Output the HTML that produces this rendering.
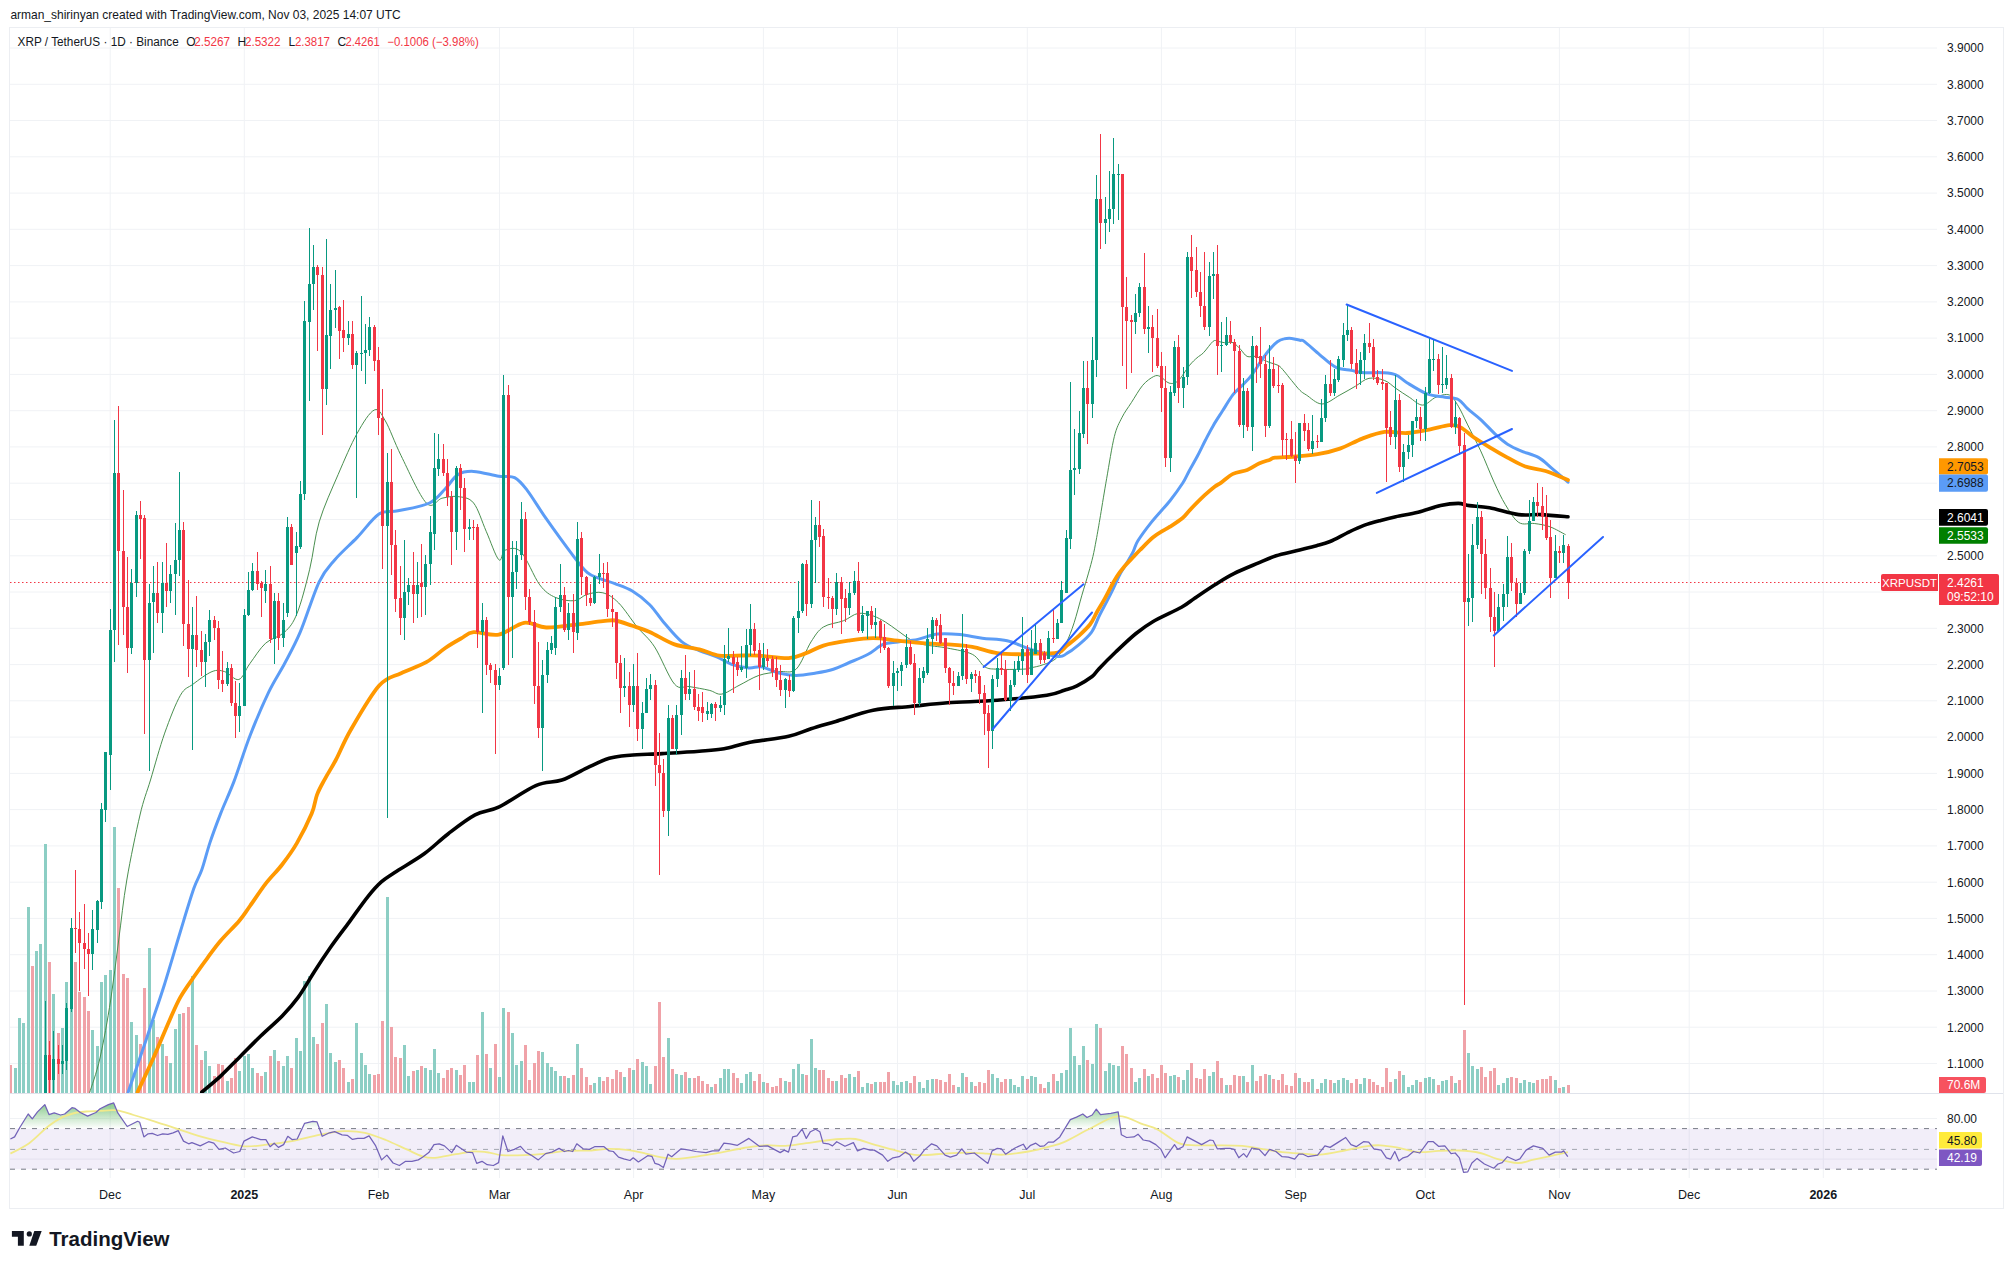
<!DOCTYPE html><html><head><meta charset="utf-8"><style>
html,body{margin:0;padding:0;background:#fff;width:2014px;height:1269px;overflow:hidden}
svg{display:block}
text{font-family:"Liberation Sans",sans-serif}
</style></head><body>
<svg width="2014" height="1269" viewBox="0 0 2014 1269">
<defs>
<clipPath id="mainclip"><rect x="10" y="28" width="1927" height="1065"/></clipPath>
<clipPath id="rsiclip"><rect x="10" y="1094" width="1927" height="84"/></clipPath>
<linearGradient id="gfill" gradientUnits="userSpaceOnUse" x1="0" y1="1098" x2="0" y2="1128.6"><stop offset="0" stop-color="#4caf50" stop-opacity="0.8"/><stop offset="1" stop-color="#4caf50" stop-opacity="0"/></linearGradient>
</defs>
<text x="10.4" y="18.9" font-size="12.6" fill="#131722" textLength="390.3" lengthAdjust="spacingAndGlyphs">arman_shirinyan created with TradingView.com, Nov 03, 2025 14:07 UTC</text>
<rect x="9.5" y="27.5" width="1994" height="1181" fill="none" stroke="#eceef2" stroke-width="1"/>
<line x1="10" y1="48.0" x2="1937" y2="48.0" stroke="#f0f2f5" stroke-width="1"/>
<line x1="10" y1="84.3" x2="1937" y2="84.3" stroke="#f0f2f5" stroke-width="1"/>
<line x1="10" y1="120.5" x2="1937" y2="120.5" stroke="#f0f2f5" stroke-width="1"/>
<line x1="10" y1="156.8" x2="1937" y2="156.8" stroke="#f0f2f5" stroke-width="1"/>
<line x1="10" y1="193.1" x2="1937" y2="193.1" stroke="#f0f2f5" stroke-width="1"/>
<line x1="10" y1="229.3" x2="1937" y2="229.3" stroke="#f0f2f5" stroke-width="1"/>
<line x1="10" y1="265.6" x2="1937" y2="265.6" stroke="#f0f2f5" stroke-width="1"/>
<line x1="10" y1="301.9" x2="1937" y2="301.9" stroke="#f0f2f5" stroke-width="1"/>
<line x1="10" y1="338.1" x2="1937" y2="338.1" stroke="#f0f2f5" stroke-width="1"/>
<line x1="10" y1="374.4" x2="1937" y2="374.4" stroke="#f0f2f5" stroke-width="1"/>
<line x1="10" y1="410.7" x2="1937" y2="410.7" stroke="#f0f2f5" stroke-width="1"/>
<line x1="10" y1="446.9" x2="1937" y2="446.9" stroke="#f0f2f5" stroke-width="1"/>
<line x1="10" y1="483.2" x2="1937" y2="483.2" stroke="#f0f2f5" stroke-width="1"/>
<line x1="10" y1="519.5" x2="1937" y2="519.5" stroke="#f0f2f5" stroke-width="1"/>
<line x1="10" y1="555.8" x2="1937" y2="555.8" stroke="#f0f2f5" stroke-width="1"/>
<line x1="10" y1="592.0" x2="1937" y2="592.0" stroke="#f0f2f5" stroke-width="1"/>
<line x1="10" y1="628.3" x2="1937" y2="628.3" stroke="#f0f2f5" stroke-width="1"/>
<line x1="10" y1="664.6" x2="1937" y2="664.6" stroke="#f0f2f5" stroke-width="1"/>
<line x1="10" y1="700.8" x2="1937" y2="700.8" stroke="#f0f2f5" stroke-width="1"/>
<line x1="10" y1="737.1" x2="1937" y2="737.1" stroke="#f0f2f5" stroke-width="1"/>
<line x1="10" y1="773.4" x2="1937" y2="773.4" stroke="#f0f2f5" stroke-width="1"/>
<line x1="10" y1="809.6" x2="1937" y2="809.6" stroke="#f0f2f5" stroke-width="1"/>
<line x1="10" y1="845.9" x2="1937" y2="845.9" stroke="#f0f2f5" stroke-width="1"/>
<line x1="10" y1="882.2" x2="1937" y2="882.2" stroke="#f0f2f5" stroke-width="1"/>
<line x1="10" y1="918.4" x2="1937" y2="918.4" stroke="#f0f2f5" stroke-width="1"/>
<line x1="10" y1="954.7" x2="1937" y2="954.7" stroke="#f0f2f5" stroke-width="1"/>
<line x1="10" y1="991.0" x2="1937" y2="991.0" stroke="#f0f2f5" stroke-width="1"/>
<line x1="10" y1="1027.2" x2="1937" y2="1027.2" stroke="#f0f2f5" stroke-width="1"/>
<line x1="10" y1="1063.5" x2="1937" y2="1063.5" stroke="#f0f2f5" stroke-width="1"/>
<line x1="10" y1="1118.5" x2="1937" y2="1118.5" stroke="#f0f2f5" stroke-width="1"/>
<line x1="10" y1="1159.1" x2="1937" y2="1159.1" stroke="#f0f2f5" stroke-width="1"/>
<line x1="110.2" y1="28" x2="110.2" y2="1178" stroke="#f0f2f5" stroke-width="1"/>
<line x1="244.3" y1="28" x2="244.3" y2="1178" stroke="#f0f2f5" stroke-width="1"/>
<line x1="378.4" y1="28" x2="378.4" y2="1178" stroke="#f0f2f5" stroke-width="1"/>
<line x1="499.5" y1="28" x2="499.5" y2="1178" stroke="#f0f2f5" stroke-width="1"/>
<line x1="633.6" y1="28" x2="633.6" y2="1178" stroke="#f0f2f5" stroke-width="1"/>
<line x1="763.4" y1="28" x2="763.4" y2="1178" stroke="#f0f2f5" stroke-width="1"/>
<line x1="897.5" y1="28" x2="897.5" y2="1178" stroke="#f0f2f5" stroke-width="1"/>
<line x1="1027.3" y1="28" x2="1027.3" y2="1178" stroke="#f0f2f5" stroke-width="1"/>
<line x1="1161.4" y1="28" x2="1161.4" y2="1178" stroke="#f0f2f5" stroke-width="1"/>
<line x1="1295.5" y1="28" x2="1295.5" y2="1178" stroke="#f0f2f5" stroke-width="1"/>
<line x1="1425.3" y1="28" x2="1425.3" y2="1178" stroke="#f0f2f5" stroke-width="1"/>
<line x1="1559.4" y1="28" x2="1559.4" y2="1178" stroke="#f0f2f5" stroke-width="1"/>
<line x1="1689.2" y1="28" x2="1689.2" y2="1178" stroke="#f0f2f5" stroke-width="1"/>
<line x1="1823.3" y1="28" x2="1823.3" y2="1178" stroke="#f0f2f5" stroke-width="1"/>
<g clip-path="url(#mainclip)">
<rect x="9" y="1065" width="3" height="28" fill="#f0a2a8"/>
<rect x="14" y="1068" width="3" height="25" fill="#8ccec4"/>
<rect x="18" y="1018" width="3" height="75" fill="#8ccec4"/>
<rect x="22" y="1023" width="3" height="70" fill="#8ccec4"/>
<rect x="27" y="907" width="3" height="186" fill="#8ccec4"/>
<rect x="31" y="966" width="3" height="127" fill="#f0a2a8"/>
<rect x="35" y="951" width="3" height="142" fill="#8ccec4"/>
<rect x="39" y="944" width="3" height="149" fill="#8ccec4"/>
<rect x="44" y="844" width="3" height="249" fill="#8ccec4"/>
<rect x="48" y="962" width="3" height="131" fill="#f0a2a8"/>
<rect x="52" y="994" width="3" height="99" fill="#8ccec4"/>
<rect x="57" y="1033" width="3" height="60" fill="#f0a2a8"/>
<rect x="61" y="1028" width="3" height="65" fill="#8ccec4"/>
<rect x="65" y="982" width="3" height="111" fill="#8ccec4"/>
<rect x="70" y="1008" width="3" height="85" fill="#8ccec4"/>
<rect x="74" y="962" width="3" height="131" fill="#f0a2a8"/>
<rect x="78" y="992" width="3" height="101" fill="#f0a2a8"/>
<rect x="83" y="997" width="3" height="96" fill="#f0a2a8"/>
<rect x="87" y="1011" width="3" height="82" fill="#f0a2a8"/>
<rect x="91" y="1030" width="3" height="63" fill="#8ccec4"/>
<rect x="96" y="1046" width="3" height="47" fill="#8ccec4"/>
<rect x="100" y="982" width="3" height="111" fill="#8ccec4"/>
<rect x="104" y="975" width="3" height="118" fill="#8ccec4"/>
<rect x="109" y="970" width="3" height="123" fill="#8ccec4"/>
<rect x="113" y="827" width="3" height="266" fill="#8ccec4"/>
<rect x="117" y="888" width="3" height="205" fill="#f0a2a8"/>
<rect x="122" y="974" width="3" height="119" fill="#f0a2a8"/>
<rect x="126" y="978" width="3" height="115" fill="#f0a2a8"/>
<rect x="130" y="1022" width="3" height="71" fill="#8ccec4"/>
<rect x="135" y="1035" width="3" height="58" fill="#8ccec4"/>
<rect x="139" y="1044" width="3" height="49" fill="#f0a2a8"/>
<rect x="143" y="988" width="3" height="105" fill="#f0a2a8"/>
<rect x="148" y="948" width="3" height="145" fill="#8ccec4"/>
<rect x="152" y="1020" width="3" height="73" fill="#8ccec4"/>
<rect x="156" y="1037" width="3" height="56" fill="#f0a2a8"/>
<rect x="161" y="1044" width="3" height="49" fill="#8ccec4"/>
<rect x="165" y="1056" width="3" height="37" fill="#f0a2a8"/>
<rect x="169" y="1063" width="3" height="30" fill="#8ccec4"/>
<rect x="174" y="1029" width="3" height="64" fill="#8ccec4"/>
<rect x="178" y="1014" width="3" height="79" fill="#8ccec4"/>
<rect x="182" y="1013" width="3" height="80" fill="#f0a2a8"/>
<rect x="187" y="1007" width="3" height="86" fill="#f0a2a8"/>
<rect x="191" y="976" width="3" height="117" fill="#8ccec4"/>
<rect x="195" y="1045" width="3" height="48" fill="#f0a2a8"/>
<rect x="200" y="1060" width="3" height="33" fill="#f0a2a8"/>
<rect x="204" y="1051" width="3" height="42" fill="#8ccec4"/>
<rect x="208" y="1066" width="3" height="27" fill="#8ccec4"/>
<rect x="213" y="1076" width="3" height="17" fill="#f0a2a8"/>
<rect x="217" y="1064" width="3" height="29" fill="#f0a2a8"/>
<rect x="221" y="1065" width="3" height="28" fill="#f0a2a8"/>
<rect x="226" y="1081" width="3" height="12" fill="#8ccec4"/>
<rect x="230" y="1078" width="3" height="15" fill="#f0a2a8"/>
<rect x="234" y="1058" width="3" height="35" fill="#f0a2a8"/>
<rect x="238" y="1071" width="3" height="22" fill="#8ccec4"/>
<rect x="243" y="1056" width="3" height="37" fill="#8ccec4"/>
<rect x="247" y="1054" width="3" height="39" fill="#8ccec4"/>
<rect x="251" y="1068" width="3" height="25" fill="#8ccec4"/>
<rect x="256" y="1073" width="3" height="20" fill="#f0a2a8"/>
<rect x="260" y="1076" width="3" height="17" fill="#f0a2a8"/>
<rect x="264" y="1072" width="3" height="21" fill="#8ccec4"/>
<rect x="269" y="1056" width="3" height="37" fill="#f0a2a8"/>
<rect x="273" y="1050" width="3" height="43" fill="#8ccec4"/>
<rect x="277" y="1061" width="3" height="32" fill="#f0a2a8"/>
<rect x="282" y="1066" width="3" height="27" fill="#8ccec4"/>
<rect x="286" y="1056" width="3" height="37" fill="#8ccec4"/>
<rect x="290" y="1068" width="3" height="25" fill="#f0a2a8"/>
<rect x="295" y="1038" width="3" height="55" fill="#8ccec4"/>
<rect x="299" y="1051" width="3" height="42" fill="#8ccec4"/>
<rect x="303" y="981" width="3" height="112" fill="#8ccec4"/>
<rect x="308" y="976" width="3" height="117" fill="#8ccec4"/>
<rect x="312" y="1037" width="3" height="56" fill="#8ccec4"/>
<rect x="316" y="1044" width="3" height="49" fill="#f0a2a8"/>
<rect x="321" y="1023" width="3" height="70" fill="#f0a2a8"/>
<rect x="325" y="1004" width="3" height="89" fill="#8ccec4"/>
<rect x="329" y="1053" width="3" height="40" fill="#8ccec4"/>
<rect x="334" y="1062" width="3" height="31" fill="#8ccec4"/>
<rect x="338" y="1060" width="3" height="33" fill="#f0a2a8"/>
<rect x="342" y="1068" width="3" height="25" fill="#f0a2a8"/>
<rect x="347" y="1082" width="3" height="11" fill="#8ccec4"/>
<rect x="351" y="1079" width="3" height="14" fill="#f0a2a8"/>
<rect x="355" y="1023" width="3" height="70" fill="#8ccec4"/>
<rect x="360" y="1053" width="3" height="40" fill="#8ccec4"/>
<rect x="364" y="1065" width="3" height="28" fill="#8ccec4"/>
<rect x="368" y="1074" width="3" height="19" fill="#8ccec4"/>
<rect x="373" y="1075" width="3" height="18" fill="#f0a2a8"/>
<rect x="377" y="1074" width="3" height="19" fill="#f0a2a8"/>
<rect x="381" y="1021" width="3" height="72" fill="#f0a2a8"/>
<rect x="386" y="897" width="3" height="196" fill="#8ccec4"/>
<rect x="390" y="1027" width="3" height="66" fill="#f0a2a8"/>
<rect x="394" y="1057" width="3" height="36" fill="#f0a2a8"/>
<rect x="399" y="1058" width="3" height="35" fill="#f0a2a8"/>
<rect x="403" y="1045" width="3" height="48" fill="#8ccec4"/>
<rect x="407" y="1076" width="3" height="17" fill="#8ccec4"/>
<rect x="412" y="1071" width="3" height="22" fill="#f0a2a8"/>
<rect x="416" y="1070" width="3" height="23" fill="#8ccec4"/>
<rect x="420" y="1066" width="3" height="27" fill="#f0a2a8"/>
<rect x="424" y="1068" width="3" height="25" fill="#8ccec4"/>
<rect x="429" y="1070" width="3" height="23" fill="#8ccec4"/>
<rect x="433" y="1049" width="3" height="44" fill="#8ccec4"/>
<rect x="437" y="1073" width="3" height="20" fill="#8ccec4"/>
<rect x="442" y="1078" width="3" height="15" fill="#f0a2a8"/>
<rect x="446" y="1070" width="3" height="23" fill="#f0a2a8"/>
<rect x="450" y="1068" width="3" height="25" fill="#f0a2a8"/>
<rect x="455" y="1070" width="3" height="23" fill="#8ccec4"/>
<rect x="459" y="1075" width="3" height="18" fill="#f0a2a8"/>
<rect x="463" y="1065" width="3" height="28" fill="#f0a2a8"/>
<rect x="468" y="1082" width="3" height="11" fill="#8ccec4"/>
<rect x="472" y="1082" width="3" height="11" fill="#8ccec4"/>
<rect x="476" y="1055" width="3" height="38" fill="#f0a2a8"/>
<rect x="481" y="1012" width="3" height="81" fill="#8ccec4"/>
<rect x="485" y="1054" width="3" height="39" fill="#f0a2a8"/>
<rect x="489" y="1068" width="3" height="25" fill="#8ccec4"/>
<rect x="494" y="1044" width="3" height="49" fill="#f0a2a8"/>
<rect x="498" y="1077" width="3" height="16" fill="#8ccec4"/>
<rect x="502" y="1008" width="3" height="85" fill="#8ccec4"/>
<rect x="507" y="1012" width="3" height="81" fill="#f0a2a8"/>
<rect x="511" y="1033" width="3" height="60" fill="#8ccec4"/>
<rect x="515" y="1065" width="3" height="28" fill="#8ccec4"/>
<rect x="520" y="1061" width="3" height="32" fill="#8ccec4"/>
<rect x="524" y="1045" width="3" height="48" fill="#f0a2a8"/>
<rect x="528" y="1080" width="3" height="13" fill="#f0a2a8"/>
<rect x="533" y="1063" width="3" height="30" fill="#f0a2a8"/>
<rect x="537" y="1051" width="3" height="42" fill="#f0a2a8"/>
<rect x="541" y="1052" width="3" height="41" fill="#8ccec4"/>
<rect x="546" y="1063" width="3" height="30" fill="#8ccec4"/>
<rect x="550" y="1067" width="3" height="26" fill="#8ccec4"/>
<rect x="554" y="1071" width="3" height="22" fill="#8ccec4"/>
<rect x="559" y="1076" width="3" height="17" fill="#8ccec4"/>
<rect x="563" y="1076" width="3" height="17" fill="#f0a2a8"/>
<rect x="567" y="1078" width="3" height="15" fill="#8ccec4"/>
<rect x="572" y="1075" width="3" height="18" fill="#f0a2a8"/>
<rect x="576" y="1044" width="3" height="49" fill="#8ccec4"/>
<rect x="580" y="1068" width="3" height="25" fill="#f0a2a8"/>
<rect x="585" y="1077" width="3" height="16" fill="#f0a2a8"/>
<rect x="589" y="1085" width="3" height="8" fill="#f0a2a8"/>
<rect x="593" y="1083" width="3" height="10" fill="#8ccec4"/>
<rect x="598" y="1077" width="3" height="16" fill="#8ccec4"/>
<rect x="602" y="1081" width="3" height="12" fill="#f0a2a8"/>
<rect x="606" y="1077" width="3" height="16" fill="#f0a2a8"/>
<rect x="611" y="1079" width="3" height="14" fill="#f0a2a8"/>
<rect x="615" y="1070" width="3" height="23" fill="#f0a2a8"/>
<rect x="619" y="1072" width="3" height="21" fill="#f0a2a8"/>
<rect x="623" y="1077" width="3" height="16" fill="#8ccec4"/>
<rect x="628" y="1068" width="3" height="25" fill="#f0a2a8"/>
<rect x="632" y="1070" width="3" height="23" fill="#8ccec4"/>
<rect x="636" y="1059" width="3" height="34" fill="#f0a2a8"/>
<rect x="641" y="1062" width="3" height="31" fill="#8ccec4"/>
<rect x="645" y="1066" width="3" height="27" fill="#8ccec4"/>
<rect x="649" y="1084" width="3" height="9" fill="#8ccec4"/>
<rect x="654" y="1066" width="3" height="27" fill="#f0a2a8"/>
<rect x="658" y="1002" width="3" height="91" fill="#f0a2a8"/>
<rect x="662" y="1057" width="3" height="36" fill="#f0a2a8"/>
<rect x="667" y="1038" width="3" height="55" fill="#8ccec4"/>
<rect x="671" y="1069" width="3" height="24" fill="#f0a2a8"/>
<rect x="675" y="1074" width="3" height="19" fill="#8ccec4"/>
<rect x="680" y="1075" width="3" height="18" fill="#8ccec4"/>
<rect x="684" y="1072" width="3" height="21" fill="#f0a2a8"/>
<rect x="688" y="1078" width="3" height="15" fill="#8ccec4"/>
<rect x="693" y="1078" width="3" height="15" fill="#f0a2a8"/>
<rect x="697" y="1076" width="3" height="17" fill="#f0a2a8"/>
<rect x="701" y="1081" width="3" height="12" fill="#f0a2a8"/>
<rect x="706" y="1084" width="3" height="9" fill="#f0a2a8"/>
<rect x="710" y="1087" width="3" height="6" fill="#8ccec4"/>
<rect x="714" y="1084" width="3" height="9" fill="#f0a2a8"/>
<rect x="719" y="1078" width="3" height="15" fill="#8ccec4"/>
<rect x="723" y="1069" width="3" height="24" fill="#8ccec4"/>
<rect x="727" y="1069" width="3" height="24" fill="#8ccec4"/>
<rect x="732" y="1073" width="3" height="20" fill="#f0a2a8"/>
<rect x="736" y="1078" width="3" height="15" fill="#f0a2a8"/>
<rect x="740" y="1083" width="3" height="10" fill="#8ccec4"/>
<rect x="745" y="1074" width="3" height="19" fill="#8ccec4"/>
<rect x="749" y="1072" width="3" height="21" fill="#8ccec4"/>
<rect x="753" y="1081" width="3" height="12" fill="#f0a2a8"/>
<rect x="758" y="1074" width="3" height="19" fill="#f0a2a8"/>
<rect x="762" y="1082" width="3" height="11" fill="#8ccec4"/>
<rect x="766" y="1083" width="3" height="10" fill="#f0a2a8"/>
<rect x="771" y="1087" width="3" height="6" fill="#f0a2a8"/>
<rect x="775" y="1086" width="3" height="7" fill="#f0a2a8"/>
<rect x="779" y="1078" width="3" height="15" fill="#f0a2a8"/>
<rect x="784" y="1081" width="3" height="12" fill="#8ccec4"/>
<rect x="788" y="1082" width="3" height="11" fill="#f0a2a8"/>
<rect x="792" y="1069" width="3" height="24" fill="#8ccec4"/>
<rect x="797" y="1064" width="3" height="29" fill="#8ccec4"/>
<rect x="801" y="1074" width="3" height="19" fill="#8ccec4"/>
<rect x="805" y="1075" width="3" height="18" fill="#f0a2a8"/>
<rect x="810" y="1039" width="3" height="54" fill="#8ccec4"/>
<rect x="814" y="1068" width="3" height="25" fill="#8ccec4"/>
<rect x="818" y="1070" width="3" height="23" fill="#f0a2a8"/>
<rect x="822" y="1070" width="3" height="23" fill="#f0a2a8"/>
<rect x="827" y="1078" width="3" height="15" fill="#f0a2a8"/>
<rect x="831" y="1081" width="3" height="12" fill="#f0a2a8"/>
<rect x="835" y="1081" width="3" height="12" fill="#8ccec4"/>
<rect x="840" y="1075" width="3" height="18" fill="#f0a2a8"/>
<rect x="844" y="1078" width="3" height="15" fill="#f0a2a8"/>
<rect x="848" y="1074" width="3" height="19" fill="#8ccec4"/>
<rect x="853" y="1077" width="3" height="16" fill="#8ccec4"/>
<rect x="857" y="1071" width="3" height="22" fill="#f0a2a8"/>
<rect x="861" y="1087" width="3" height="6" fill="#8ccec4"/>
<rect x="866" y="1083" width="3" height="10" fill="#8ccec4"/>
<rect x="870" y="1084" width="3" height="9" fill="#f0a2a8"/>
<rect x="874" y="1082" width="3" height="11" fill="#8ccec4"/>
<rect x="879" y="1082" width="3" height="11" fill="#f0a2a8"/>
<rect x="883" y="1082" width="3" height="11" fill="#f0a2a8"/>
<rect x="887" y="1072" width="3" height="21" fill="#f0a2a8"/>
<rect x="892" y="1081" width="3" height="12" fill="#8ccec4"/>
<rect x="896" y="1085" width="3" height="8" fill="#8ccec4"/>
<rect x="900" y="1082" width="3" height="11" fill="#8ccec4"/>
<rect x="905" y="1081" width="3" height="12" fill="#8ccec4"/>
<rect x="909" y="1083" width="3" height="10" fill="#f0a2a8"/>
<rect x="913" y="1076" width="3" height="17" fill="#f0a2a8"/>
<rect x="918" y="1082" width="3" height="11" fill="#8ccec4"/>
<rect x="922" y="1088" width="3" height="5" fill="#8ccec4"/>
<rect x="926" y="1080" width="3" height="13" fill="#8ccec4"/>
<rect x="931" y="1079" width="3" height="14" fill="#8ccec4"/>
<rect x="935" y="1079" width="3" height="14" fill="#f0a2a8"/>
<rect x="939" y="1080" width="3" height="13" fill="#f0a2a8"/>
<rect x="944" y="1082" width="3" height="11" fill="#f0a2a8"/>
<rect x="948" y="1074" width="3" height="19" fill="#f0a2a8"/>
<rect x="952" y="1085" width="3" height="8" fill="#f0a2a8"/>
<rect x="957" y="1087" width="3" height="6" fill="#8ccec4"/>
<rect x="961" y="1073" width="3" height="20" fill="#8ccec4"/>
<rect x="965" y="1077" width="3" height="16" fill="#f0a2a8"/>
<rect x="970" y="1082" width="3" height="11" fill="#8ccec4"/>
<rect x="974" y="1086" width="3" height="7" fill="#f0a2a8"/>
<rect x="978" y="1082" width="3" height="11" fill="#f0a2a8"/>
<rect x="983" y="1083" width="3" height="10" fill="#f0a2a8"/>
<rect x="987" y="1070" width="3" height="23" fill="#f0a2a8"/>
<rect x="991" y="1074" width="3" height="19" fill="#8ccec4"/>
<rect x="996" y="1078" width="3" height="15" fill="#8ccec4"/>
<rect x="1000" y="1082" width="3" height="11" fill="#f0a2a8"/>
<rect x="1004" y="1079" width="3" height="14" fill="#f0a2a8"/>
<rect x="1009" y="1079" width="3" height="14" fill="#8ccec4"/>
<rect x="1013" y="1085" width="3" height="8" fill="#8ccec4"/>
<rect x="1017" y="1087" width="3" height="6" fill="#8ccec4"/>
<rect x="1021" y="1076" width="3" height="17" fill="#8ccec4"/>
<rect x="1026" y="1079" width="3" height="14" fill="#f0a2a8"/>
<rect x="1030" y="1076" width="3" height="17" fill="#8ccec4"/>
<rect x="1034" y="1077" width="3" height="16" fill="#8ccec4"/>
<rect x="1039" y="1084" width="3" height="9" fill="#f0a2a8"/>
<rect x="1043" y="1088" width="3" height="5" fill="#f0a2a8"/>
<rect x="1047" y="1082" width="3" height="11" fill="#8ccec4"/>
<rect x="1052" y="1074" width="3" height="19" fill="#f0a2a8"/>
<rect x="1056" y="1081" width="3" height="12" fill="#8ccec4"/>
<rect x="1060" y="1073" width="3" height="20" fill="#8ccec4"/>
<rect x="1065" y="1070" width="3" height="23" fill="#8ccec4"/>
<rect x="1069" y="1028" width="3" height="65" fill="#8ccec4"/>
<rect x="1073" y="1056" width="3" height="37" fill="#8ccec4"/>
<rect x="1078" y="1065" width="3" height="28" fill="#8ccec4"/>
<rect x="1082" y="1046" width="3" height="47" fill="#8ccec4"/>
<rect x="1086" y="1060" width="3" height="33" fill="#f0a2a8"/>
<rect x="1091" y="1064" width="3" height="29" fill="#8ccec4"/>
<rect x="1095" y="1024" width="3" height="69" fill="#8ccec4"/>
<rect x="1099" y="1028" width="3" height="65" fill="#f0a2a8"/>
<rect x="1104" y="1071" width="3" height="22" fill="#8ccec4"/>
<rect x="1108" y="1063" width="3" height="30" fill="#8ccec4"/>
<rect x="1112" y="1065" width="3" height="28" fill="#8ccec4"/>
<rect x="1117" y="1066" width="3" height="27" fill="#8ccec4"/>
<rect x="1121" y="1046" width="3" height="47" fill="#f0a2a8"/>
<rect x="1125" y="1054" width="3" height="39" fill="#f0a2a8"/>
<rect x="1130" y="1068" width="3" height="25" fill="#f0a2a8"/>
<rect x="1134" y="1082" width="3" height="11" fill="#8ccec4"/>
<rect x="1138" y="1078" width="3" height="15" fill="#8ccec4"/>
<rect x="1143" y="1069" width="3" height="24" fill="#f0a2a8"/>
<rect x="1147" y="1076" width="3" height="17" fill="#8ccec4"/>
<rect x="1151" y="1074" width="3" height="19" fill="#f0a2a8"/>
<rect x="1156" y="1078" width="3" height="15" fill="#f0a2a8"/>
<rect x="1160" y="1065" width="3" height="28" fill="#f0a2a8"/>
<rect x="1164" y="1073" width="3" height="20" fill="#f0a2a8"/>
<rect x="1169" y="1076" width="3" height="17" fill="#8ccec4"/>
<rect x="1173" y="1075" width="3" height="18" fill="#8ccec4"/>
<rect x="1177" y="1077" width="3" height="16" fill="#f0a2a8"/>
<rect x="1182" y="1080" width="3" height="13" fill="#8ccec4"/>
<rect x="1186" y="1070" width="3" height="23" fill="#8ccec4"/>
<rect x="1190" y="1063" width="3" height="30" fill="#f0a2a8"/>
<rect x="1195" y="1078" width="3" height="15" fill="#f0a2a8"/>
<rect x="1199" y="1079" width="3" height="14" fill="#f0a2a8"/>
<rect x="1203" y="1069" width="3" height="24" fill="#f0a2a8"/>
<rect x="1208" y="1076" width="3" height="17" fill="#8ccec4"/>
<rect x="1212" y="1072" width="3" height="21" fill="#8ccec4"/>
<rect x="1216" y="1061" width="3" height="32" fill="#f0a2a8"/>
<rect x="1220" y="1078" width="3" height="15" fill="#f0a2a8"/>
<rect x="1225" y="1085" width="3" height="8" fill="#8ccec4"/>
<rect x="1229" y="1085" width="3" height="8" fill="#f0a2a8"/>
<rect x="1233" y="1075" width="3" height="18" fill="#f0a2a8"/>
<rect x="1238" y="1076" width="3" height="17" fill="#f0a2a8"/>
<rect x="1242" y="1076" width="3" height="17" fill="#8ccec4"/>
<rect x="1246" y="1082" width="3" height="11" fill="#f0a2a8"/>
<rect x="1251" y="1065" width="3" height="28" fill="#8ccec4"/>
<rect x="1255" y="1081" width="3" height="12" fill="#f0a2a8"/>
<rect x="1259" y="1076" width="3" height="17" fill="#f0a2a8"/>
<rect x="1264" y="1074" width="3" height="19" fill="#f0a2a8"/>
<rect x="1268" y="1075" width="3" height="18" fill="#8ccec4"/>
<rect x="1272" y="1079" width="3" height="14" fill="#f0a2a8"/>
<rect x="1277" y="1080" width="3" height="13" fill="#f0a2a8"/>
<rect x="1281" y="1074" width="3" height="19" fill="#f0a2a8"/>
<rect x="1285" y="1085" width="3" height="8" fill="#f0a2a8"/>
<rect x="1290" y="1086" width="3" height="7" fill="#f0a2a8"/>
<rect x="1294" y="1073" width="3" height="20" fill="#f0a2a8"/>
<rect x="1298" y="1078" width="3" height="15" fill="#8ccec4"/>
<rect x="1303" y="1082" width="3" height="11" fill="#f0a2a8"/>
<rect x="1307" y="1082" width="3" height="11" fill="#f0a2a8"/>
<rect x="1311" y="1079" width="3" height="14" fill="#8ccec4"/>
<rect x="1316" y="1089" width="3" height="4" fill="#f0a2a8"/>
<rect x="1320" y="1083" width="3" height="10" fill="#8ccec4"/>
<rect x="1324" y="1079" width="3" height="14" fill="#8ccec4"/>
<rect x="1329" y="1080" width="3" height="13" fill="#f0a2a8"/>
<rect x="1333" y="1083" width="3" height="10" fill="#8ccec4"/>
<rect x="1337" y="1080" width="3" height="13" fill="#8ccec4"/>
<rect x="1342" y="1078" width="3" height="15" fill="#8ccec4"/>
<rect x="1346" y="1080" width="3" height="13" fill="#8ccec4"/>
<rect x="1350" y="1083" width="3" height="10" fill="#f0a2a8"/>
<rect x="1355" y="1079" width="3" height="14" fill="#f0a2a8"/>
<rect x="1359" y="1084" width="3" height="9" fill="#8ccec4"/>
<rect x="1363" y="1078" width="3" height="15" fill="#8ccec4"/>
<rect x="1368" y="1079" width="3" height="14" fill="#f0a2a8"/>
<rect x="1372" y="1082" width="3" height="11" fill="#f0a2a8"/>
<rect x="1376" y="1085" width="3" height="8" fill="#f0a2a8"/>
<rect x="1381" y="1087" width="3" height="6" fill="#f0a2a8"/>
<rect x="1385" y="1068" width="3" height="25" fill="#f0a2a8"/>
<rect x="1389" y="1082" width="3" height="11" fill="#f0a2a8"/>
<rect x="1394" y="1079" width="3" height="14" fill="#8ccec4"/>
<rect x="1398" y="1071" width="3" height="22" fill="#f0a2a8"/>
<rect x="1402" y="1075" width="3" height="18" fill="#8ccec4"/>
<rect x="1407" y="1087" width="3" height="6" fill="#8ccec4"/>
<rect x="1411" y="1085" width="3" height="8" fill="#8ccec4"/>
<rect x="1415" y="1080" width="3" height="13" fill="#8ccec4"/>
<rect x="1419" y="1082" width="3" height="11" fill="#f0a2a8"/>
<rect x="1424" y="1078" width="3" height="15" fill="#8ccec4"/>
<rect x="1428" y="1077" width="3" height="16" fill="#8ccec4"/>
<rect x="1432" y="1079" width="3" height="14" fill="#8ccec4"/>
<rect x="1437" y="1085" width="3" height="8" fill="#f0a2a8"/>
<rect x="1441" y="1081" width="3" height="12" fill="#8ccec4"/>
<rect x="1445" y="1080" width="3" height="13" fill="#8ccec4"/>
<rect x="1450" y="1076" width="3" height="17" fill="#f0a2a8"/>
<rect x="1454" y="1083" width="3" height="10" fill="#8ccec4"/>
<rect x="1458" y="1080" width="3" height="13" fill="#f0a2a8"/>
<rect x="1463" y="1030" width="3" height="63" fill="#f0a2a8"/>
<rect x="1467" y="1053" width="3" height="40" fill="#8ccec4"/>
<rect x="1471" y="1066" width="3" height="27" fill="#8ccec4"/>
<rect x="1476" y="1069" width="3" height="24" fill="#8ccec4"/>
<rect x="1480" y="1067" width="3" height="26" fill="#f0a2a8"/>
<rect x="1484" y="1077" width="3" height="16" fill="#f0a2a8"/>
<rect x="1489" y="1071" width="3" height="22" fill="#f0a2a8"/>
<rect x="1493" y="1068" width="3" height="25" fill="#f0a2a8"/>
<rect x="1497" y="1085" width="3" height="8" fill="#8ccec4"/>
<rect x="1502" y="1083" width="3" height="10" fill="#8ccec4"/>
<rect x="1506" y="1078" width="3" height="15" fill="#8ccec4"/>
<rect x="1510" y="1077" width="3" height="16" fill="#f0a2a8"/>
<rect x="1515" y="1078" width="3" height="15" fill="#f0a2a8"/>
<rect x="1519" y="1083" width="3" height="10" fill="#8ccec4"/>
<rect x="1523" y="1080" width="3" height="13" fill="#8ccec4"/>
<rect x="1528" y="1082" width="3" height="11" fill="#8ccec4"/>
<rect x="1532" y="1083" width="3" height="10" fill="#8ccec4"/>
<rect x="1536" y="1080" width="3" height="13" fill="#f0a2a8"/>
<rect x="1541" y="1079" width="3" height="14" fill="#f0a2a8"/>
<rect x="1545" y="1079" width="3" height="14" fill="#f0a2a8"/>
<rect x="1549" y="1076" width="3" height="17" fill="#f0a2a8"/>
<rect x="1554" y="1080" width="3" height="13" fill="#8ccec4"/>
<rect x="1558" y="1088" width="3" height="5" fill="#f0a2a8"/>
<rect x="1562" y="1087" width="3" height="6" fill="#8ccec4"/>
<rect x="1567" y="1085" width="3" height="8" fill="#f0a2a8"/>
</g>
<rect x="10" y="1128.6" width="1927" height="40.6" fill="rgba(126,87,194,0.1)"/>
<line x1="10" y1="1128.6" x2="1937" y2="1128.6" stroke="#787b86" stroke-width="1" stroke-dasharray="5,6"/>
<line x1="10" y1="1149.4" x2="1937" y2="1149.4" stroke="#a3a6af" stroke-width="1" stroke-dasharray="5,6"/>
<line x1="10" y1="1169.2" x2="1937" y2="1169.2" stroke="#787b86" stroke-width="1" stroke-dasharray="5,6"/>
<g clip-path="url(#rsiclip)">
<clipPath id="above70"><rect x="10" y="1094" width="1927" height="34.6"/></clipPath>
<polygon points="10.4,1139.0 14.6,1136.9 19.8,1127.5 28.2,1114.0 32.3,1118.8 37.5,1111.9 44.8,1104.6 49.0,1114.6 54.2,1112.9 60.5,1115.0 64.7,1114.0 72.0,1107.7 75.1,1108.4 80.3,1112.5 87.6,1116.1 95.9,1112.5 100.1,1108.8 108.4,1104.6 113.7,1102.9 117.8,1112.9 127.2,1126.5 137.6,1121.3 139.7,1122.3 143.9,1136.9 148.1,1133.8 152.2,1133.4 157.5,1135.5 162.7,1133.8 167.9,1134.4 173.1,1132.8 178.3,1130.7 183.5,1141.1 188.7,1143.8 191.9,1142.6 200.2,1145.9 208.6,1141.7 213.8,1143.2 219.0,1149.4 225.2,1148.0 233.6,1153.0 239.8,1151.5 244.0,1141.1 252.3,1136.9 260.7,1139.6 265.9,1139.6 270.1,1146.7 274.2,1143.2 278.4,1147.4 283.6,1144.6 287.8,1136.3 292.0,1139.6 297.2,1139.0 304.5,1123.4 312.8,1121.3 317.0,1121.9 322.2,1136.3 329.5,1132.8 334.7,1131.7 342.0,1134.8 347.2,1135.3 352.5,1139.4 357.7,1138.4 363.9,1138.4 369.1,1135.9 375.4,1145.3 381.6,1159.9 386.9,1155.1 393.1,1163.0 399.4,1165.5 405.6,1161.3 411.9,1161.3 418.3,1159.9 422.5,1157.2 428.8,1152.6 434.0,1144.6 439.2,1143.8 444.4,1145.9 451.7,1152.6 456.3,1145.3 461.1,1148.4 466.3,1152.1 472.6,1152.6 476.7,1163.4 482.0,1161.3 487.2,1164.7 493.4,1165.5 498.6,1162.6 502.8,1135.9 508.0,1151.5 514.3,1149.4 520.5,1146.3 525.7,1152.1 531.0,1155.1 538.3,1159.9 545.6,1153.6 551.8,1152.1 559.1,1148.4 564.3,1151.5 568.5,1150.5 572.7,1151.5 576.8,1143.8 583.1,1148.8 589.4,1149.4 594.6,1146.7 604.0,1146.7 609.2,1150.9 613.3,1151.5 618.5,1157.2 623.8,1158.8 630.0,1160.5 633.2,1157.8 638.4,1161.9 647.7,1155.7 651.9,1156.3 655.0,1163.4 659.2,1164.7 663.4,1167.6 668.0,1154.2 671.7,1156.7 681.1,1148.8 689.5,1150.1 695.7,1151.5 706.1,1152.6 712.4,1150.9 718.7,1150.9 723.9,1143.2 730.1,1143.8 737.4,1145.3 748.9,1138.4 759.3,1146.3 767.7,1145.9 780.2,1152.6 784.3,1150.1 788.5,1152.1 792.7,1136.9 796.9,1135.9 802.1,1129.2 806.3,1138.4 810.4,1131.7 815.6,1129.2 819.8,1131.7 823.1,1143.2 828.3,1143.8 832.5,1145.9 836.7,1141.7 845.0,1146.3 853.4,1142.6 857.5,1150.9 863.8,1148.4 870.1,1150.1 874.2,1150.1 882.6,1155.1 887.8,1161.3 893.0,1157.8 899.2,1156.7 905.5,1152.1 909.7,1154.7 913.8,1161.3 920.1,1155.7 924.3,1150.1 931.6,1143.8 936.8,1145.9 945.1,1155.1 950.3,1157.2 956.6,1155.1 961.8,1148.8 966.0,1154.2 974.3,1153.0 987.9,1163.4 992.1,1150.9 997.3,1148.4 1001.4,1148.8 1005.6,1154.2 1015.0,1148.0 1023.3,1144.2 1026.5,1149.4 1030.6,1145.3 1035.8,1143.2 1040.0,1146.3 1044.2,1145.9 1048.4,1142.1 1053.6,1142.1 1059.8,1136.9 1070.3,1119.6 1076.5,1117.1 1082.8,1114.0 1087.0,1117.5 1092.2,1115.0 1096.3,1109.2 1100.5,1114.6 1110.9,1113.4 1118.2,1111.9 1121.4,1134.8 1126.6,1137.5 1133.9,1136.9 1138.0,1134.2 1143.2,1140.0 1149.5,1141.1 1155.8,1144.6 1161.0,1149.4 1165.1,1157.8 1174.5,1144.6 1177.7,1149.4 1182.9,1146.7 1187.1,1136.9 1201.6,1144.6 1210.0,1140.0 1213.1,1140.5 1217.3,1148.8 1225.6,1148.4 1230.0,1148.4 1234.2,1149.4 1238.8,1157.8 1243.6,1153.6 1246.7,1157.2 1251.9,1148.0 1259.2,1149.4 1265.0,1155.7 1269.6,1149.4 1275.9,1151.5 1282.1,1156.7 1288.4,1157.2 1294.7,1159.2 1298.8,1154.2 1303.0,1154.2 1308.2,1156.7 1317.6,1155.1 1324.9,1145.9 1330.1,1147.4 1338.4,1142.1 1345.7,1137.5 1351.0,1144.6 1356.2,1146.7 1363.5,1141.7 1368.7,1142.1 1373.9,1148.8 1381.2,1150.1 1386.4,1157.8 1390.6,1159.2 1394.8,1151.5 1398.9,1160.9 1403.1,1157.8 1407.3,1156.7 1413.5,1151.5 1419.8,1153.0 1428.1,1141.7 1433.3,1141.7 1438.5,1146.3 1444.8,1145.9 1451.1,1153.6 1455.2,1153.0 1459.4,1157.8 1463.6,1172.4 1467.8,1171.8 1471.9,1163.0 1477.1,1158.4 1484.4,1164.0 1493.8,1168.2 1498.0,1164.0 1502.2,1162.6 1507.4,1156.7 1515.7,1160.5 1519.9,1158.8 1526.1,1150.1 1533.4,1145.9 1542.8,1148.4 1549.1,1155.1 1555.3,1152.1 1561.6,1152.1 1563.7,1150.9 1567.8,1156.7 1567.8,1128.6 10.4,1128.6" fill="url(#gfill)" clip-path="url(#above70)"/>
<path d="M10.4,1153.6 C13.5,1151.9 22.9,1147.7 29.2,1143.2 C35.5,1138.7 42.4,1130.8 48.0,1126.5 C53.6,1122.2 57.7,1119.4 62.6,1117.1 C67.5,1114.8 72.7,1113.5 77.2,1112.5 C81.7,1111.5 85.9,1111.6 89.7,1111.3 C93.5,1111.0 95.6,1111.1 100.1,1110.9 C104.6,1110.8 111.2,1109.7 116.8,1110.4 C122.4,1111.1 127.2,1113.2 133.5,1115.0 C139.8,1116.8 146.7,1118.9 154.3,1121.3 C162.0,1123.7 171.8,1127.1 179.4,1129.6 C187.1,1132.1 193.6,1134.4 200.2,1136.3 C206.8,1138.2 211.7,1139.4 219.0,1141.1 C226.3,1142.8 236.0,1145.7 244.0,1146.3 C252.0,1146.9 258.9,1145.5 266.9,1144.6 C274.9,1143.7 283.3,1142.7 292.0,1141.1 C300.7,1139.5 310.4,1136.5 319.1,1134.8 C327.8,1133.1 336.5,1131.4 344.1,1131.1 C351.8,1130.8 358.1,1131.3 365.0,1132.8 C371.9,1134.3 378.9,1137.2 385.8,1140.0 C392.8,1142.8 400.6,1146.7 406.7,1149.4 C412.8,1152.1 417.8,1154.9 422.5,1156.3 C427.2,1157.7 429.4,1158.1 435.0,1157.8 C440.6,1157.5 449.6,1155.2 455.9,1154.2 C462.2,1153.2 467.1,1151.8 472.6,1151.5 C478.2,1151.2 484.3,1152.0 489.2,1152.6 C494.1,1153.2 495.9,1154.7 501.8,1155.1 C507.7,1155.5 517.4,1155.3 524.7,1155.1 C532.0,1154.8 538.7,1154.3 545.6,1153.6 C552.5,1152.9 558.8,1151.4 566.4,1150.9 C574.0,1150.4 584.4,1150.8 591.4,1150.5 C598.4,1150.2 601.8,1148.9 608.1,1148.8 C614.4,1148.7 622.7,1149.3 629.0,1150.1 C635.3,1150.9 640.5,1152.4 645.7,1153.6 C650.9,1154.8 655.1,1156.3 660.3,1157.2 C665.5,1158.1 670.0,1159.0 677.0,1158.8 C684.0,1158.5 694.4,1156.8 702.0,1155.7 C709.6,1154.6 715.8,1153.4 722.8,1152.1 C729.8,1150.8 736.8,1149.1 743.7,1148.0 C750.7,1146.9 757.5,1145.6 764.5,1145.3 C771.5,1145.0 778.4,1146.2 785.4,1145.9 C792.4,1145.6 798.9,1144.2 806.3,1143.2 C813.7,1142.2 824.2,1140.7 830.0,1140.0 C835.8,1139.3 836.6,1139.2 840.9,1139.0 C845.1,1138.8 850.0,1138.1 855.5,1139.0 C861.0,1139.9 867.2,1142.6 874.2,1144.6 C881.2,1146.6 889.9,1149.2 897.2,1150.9 C904.5,1152.7 910.0,1154.6 918.0,1155.1 C926.0,1155.5 937.1,1154.0 945.1,1153.6 C953.1,1153.2 959.0,1152.6 966.0,1152.6 C973.0,1152.6 980.5,1153.2 986.8,1153.6 C993.0,1153.9 996.5,1155.0 1003.5,1154.7 C1010.5,1154.4 1020.9,1152.8 1028.5,1151.5 C1036.2,1150.2 1043.5,1148.3 1049.4,1146.7 C1055.3,1145.1 1057.0,1145.2 1064.0,1142.1 C1071.0,1139.0 1082.1,1132.3 1091.1,1128.0 C1100.1,1123.7 1109.5,1116.7 1118.2,1116.1 C1126.9,1115.5 1136.6,1122.2 1143.2,1124.4 C1149.8,1126.7 1151.9,1126.5 1157.8,1129.6 C1163.7,1132.7 1172.4,1140.6 1178.7,1143.2 C1185.0,1145.8 1189.2,1145.0 1195.4,1145.3 C1201.7,1145.6 1208.4,1145.2 1216.2,1145.3 C1224.0,1145.4 1235.0,1145.3 1242.5,1145.9 C1250.0,1146.5 1254.7,1147.8 1261.3,1148.8 C1267.9,1149.8 1275.1,1151.3 1282.1,1152.1 C1289.0,1152.9 1296.7,1153.2 1303.0,1153.6 C1309.3,1154.0 1312.8,1155.2 1319.7,1154.7 C1326.7,1154.2 1337.1,1151.9 1344.7,1150.5 C1352.3,1149.1 1359.7,1147.2 1365.6,1146.3 C1371.5,1145.4 1375.0,1145.1 1380.2,1145.3 C1385.4,1145.5 1390.5,1146.3 1396.8,1147.4 C1403.0,1148.5 1410.8,1151.5 1417.7,1152.1 C1424.7,1152.7 1431.5,1151.2 1438.5,1150.9 C1445.5,1150.6 1452.4,1150.2 1459.4,1150.5 C1466.4,1150.8 1474.0,1151.6 1480.3,1153.0 C1486.5,1154.4 1490.7,1157.1 1496.9,1158.8 C1503.2,1160.5 1511.9,1162.8 1517.8,1163.0 C1523.7,1163.2 1527.2,1161.0 1532.4,1159.9 C1537.6,1158.8 1543.2,1157.6 1549.1,1156.3 C1555.0,1155.0 1564.7,1152.8 1567.8,1152.1" fill="none" stroke="#f1e98a" stroke-width="1.8" stroke-linejoin="round"/>
<polyline points="10.4,1139.0 14.6,1136.9 19.8,1127.5 28.2,1114.0 32.3,1118.8 37.5,1111.9 44.8,1104.6 49.0,1114.6 54.2,1112.9 60.5,1115.0 64.7,1114.0 72.0,1107.7 75.1,1108.4 80.3,1112.5 87.6,1116.1 95.9,1112.5 100.1,1108.8 108.4,1104.6 113.7,1102.9 117.8,1112.9 127.2,1126.5 137.6,1121.3 139.7,1122.3 143.9,1136.9 148.1,1133.8 152.2,1133.4 157.5,1135.5 162.7,1133.8 167.9,1134.4 173.1,1132.8 178.3,1130.7 183.5,1141.1 188.7,1143.8 191.9,1142.6 200.2,1145.9 208.6,1141.7 213.8,1143.2 219.0,1149.4 225.2,1148.0 233.6,1153.0 239.8,1151.5 244.0,1141.1 252.3,1136.9 260.7,1139.6 265.9,1139.6 270.1,1146.7 274.2,1143.2 278.4,1147.4 283.6,1144.6 287.8,1136.3 292.0,1139.6 297.2,1139.0 304.5,1123.4 312.8,1121.3 317.0,1121.9 322.2,1136.3 329.5,1132.8 334.7,1131.7 342.0,1134.8 347.2,1135.3 352.5,1139.4 357.7,1138.4 363.9,1138.4 369.1,1135.9 375.4,1145.3 381.6,1159.9 386.9,1155.1 393.1,1163.0 399.4,1165.5 405.6,1161.3 411.9,1161.3 418.3,1159.9 422.5,1157.2 428.8,1152.6 434.0,1144.6 439.2,1143.8 444.4,1145.9 451.7,1152.6 456.3,1145.3 461.1,1148.4 466.3,1152.1 472.6,1152.6 476.7,1163.4 482.0,1161.3 487.2,1164.7 493.4,1165.5 498.6,1162.6 502.8,1135.9 508.0,1151.5 514.3,1149.4 520.5,1146.3 525.7,1152.1 531.0,1155.1 538.3,1159.9 545.6,1153.6 551.8,1152.1 559.1,1148.4 564.3,1151.5 568.5,1150.5 572.7,1151.5 576.8,1143.8 583.1,1148.8 589.4,1149.4 594.6,1146.7 604.0,1146.7 609.2,1150.9 613.3,1151.5 618.5,1157.2 623.8,1158.8 630.0,1160.5 633.2,1157.8 638.4,1161.9 647.7,1155.7 651.9,1156.3 655.0,1163.4 659.2,1164.7 663.4,1167.6 668.0,1154.2 671.7,1156.7 681.1,1148.8 689.5,1150.1 695.7,1151.5 706.1,1152.6 712.4,1150.9 718.7,1150.9 723.9,1143.2 730.1,1143.8 737.4,1145.3 748.9,1138.4 759.3,1146.3 767.7,1145.9 780.2,1152.6 784.3,1150.1 788.5,1152.1 792.7,1136.9 796.9,1135.9 802.1,1129.2 806.3,1138.4 810.4,1131.7 815.6,1129.2 819.8,1131.7 823.1,1143.2 828.3,1143.8 832.5,1145.9 836.7,1141.7 845.0,1146.3 853.4,1142.6 857.5,1150.9 863.8,1148.4 870.1,1150.1 874.2,1150.1 882.6,1155.1 887.8,1161.3 893.0,1157.8 899.2,1156.7 905.5,1152.1 909.7,1154.7 913.8,1161.3 920.1,1155.7 924.3,1150.1 931.6,1143.8 936.8,1145.9 945.1,1155.1 950.3,1157.2 956.6,1155.1 961.8,1148.8 966.0,1154.2 974.3,1153.0 987.9,1163.4 992.1,1150.9 997.3,1148.4 1001.4,1148.8 1005.6,1154.2 1015.0,1148.0 1023.3,1144.2 1026.5,1149.4 1030.6,1145.3 1035.8,1143.2 1040.0,1146.3 1044.2,1145.9 1048.4,1142.1 1053.6,1142.1 1059.8,1136.9 1070.3,1119.6 1076.5,1117.1 1082.8,1114.0 1087.0,1117.5 1092.2,1115.0 1096.3,1109.2 1100.5,1114.6 1110.9,1113.4 1118.2,1111.9 1121.4,1134.8 1126.6,1137.5 1133.9,1136.9 1138.0,1134.2 1143.2,1140.0 1149.5,1141.1 1155.8,1144.6 1161.0,1149.4 1165.1,1157.8 1174.5,1144.6 1177.7,1149.4 1182.9,1146.7 1187.1,1136.9 1201.6,1144.6 1210.0,1140.0 1213.1,1140.5 1217.3,1148.8 1225.6,1148.4 1230.0,1148.4 1234.2,1149.4 1238.8,1157.8 1243.6,1153.6 1246.7,1157.2 1251.9,1148.0 1259.2,1149.4 1265.0,1155.7 1269.6,1149.4 1275.9,1151.5 1282.1,1156.7 1288.4,1157.2 1294.7,1159.2 1298.8,1154.2 1303.0,1154.2 1308.2,1156.7 1317.6,1155.1 1324.9,1145.9 1330.1,1147.4 1338.4,1142.1 1345.7,1137.5 1351.0,1144.6 1356.2,1146.7 1363.5,1141.7 1368.7,1142.1 1373.9,1148.8 1381.2,1150.1 1386.4,1157.8 1390.6,1159.2 1394.8,1151.5 1398.9,1160.9 1403.1,1157.8 1407.3,1156.7 1413.5,1151.5 1419.8,1153.0 1428.1,1141.7 1433.3,1141.7 1438.5,1146.3 1444.8,1145.9 1451.1,1153.6 1455.2,1153.0 1459.4,1157.8 1463.6,1172.4 1467.8,1171.8 1471.9,1163.0 1477.1,1158.4 1484.4,1164.0 1493.8,1168.2 1498.0,1164.0 1502.2,1162.6 1507.4,1156.7 1515.7,1160.5 1519.9,1158.8 1526.1,1150.1 1533.4,1145.9 1542.8,1148.4 1549.1,1155.1 1555.3,1152.1 1561.6,1152.1 1563.7,1150.9 1567.8,1156.7" fill="none" stroke="#7262b8" stroke-width="1.25" stroke-linejoin="round"/>
</g>
<line x1="10" y1="1093.5" x2="2003" y2="1093.5" stroke="#e0e3eb" stroke-width="1"/>
<line x1="10" y1="582.5" x2="1881" y2="582.5" stroke="#f23645" stroke-width="1" stroke-dasharray="1.5,2.5"/>
<g clip-path="url(#mainclip)">
<path d="M89.6,1092.8 C91.3,1087.0 96.5,1073.5 100.0,1058.0 C103.5,1042.5 107.6,1019.7 110.7,1000.0 C113.8,980.3 116.0,960.0 118.7,940.0 C121.4,920.0 123.2,900.8 126.8,880.0 C130.3,859.2 136.1,831.7 140.0,815.0 C143.9,798.3 146.4,793.6 150.5,780.0 C154.6,766.4 159.7,747.2 164.7,733.1 C169.7,719.0 175.7,703.4 180.4,695.3 C185.1,687.1 187.7,688.2 193.0,684.2 C198.3,680.2 206.7,673.7 212.0,671.6 C217.3,669.5 220.1,670.3 224.6,671.6 C229.1,672.9 234.6,680.8 238.8,679.5 C243.0,678.2 245.3,669.8 249.8,663.7 C254.3,657.7 259.8,648.5 265.6,643.2 C271.4,638.0 279.2,637.2 284.5,632.2 C289.8,627.2 292.9,623.8 297.1,613.3 C301.3,602.8 306.0,584.4 309.7,569.2 C313.4,554.0 314.5,537.7 319.2,521.9 C323.9,506.1 331.8,489.3 338.1,474.6 C344.4,459.9 351.0,444.4 357.0,433.6 C363.0,422.8 369.6,412.1 374.3,410.0 C379.0,407.9 380.9,413.4 385.4,421.0 C389.9,428.6 394.3,442.0 401.1,455.7 C407.9,469.4 419.5,495.9 426.3,503.0 C433.1,510.1 436.8,499.3 442.1,498.2 C447.4,497.1 452.6,495.8 457.9,496.6 C463.1,497.4 468.9,497.2 473.6,503.0 C478.3,508.8 482.0,521.8 486.2,531.3 C490.4,540.8 495.6,556.6 498.8,559.7 C502.0,562.9 501.5,551.5 505.2,550.2 C508.9,548.9 515.1,546.0 520.9,551.8 C526.7,557.6 534.0,577.3 539.8,584.9 C545.6,592.5 549.8,594.9 555.6,597.5 C561.4,600.1 569.2,601.2 574.5,600.7 C579.8,600.2 582.4,595.7 587.1,594.4 C591.8,593.1 597.6,591.4 602.9,592.8 C608.2,594.2 613.0,597.3 618.7,603.0 C624.4,608.7 631.2,619.7 637.2,627.0 C643.2,634.3 648.4,637.4 654.6,646.9 C660.8,656.4 668.7,677.5 674.5,684.1 C680.3,690.7 683.6,685.6 689.4,686.6 C695.2,687.6 703.8,689.0 709.2,690.3 C714.6,691.5 716.7,694.9 721.7,694.1 C726.7,693.3 732.8,688.5 739.0,685.4 C745.2,682.3 752.3,677.7 758.9,675.4 C765.5,673.1 772.5,672.7 778.7,671.7 C784.9,670.7 790.7,674.2 796.1,669.2 C801.5,664.2 806.5,648.9 811.0,641.9 C815.5,634.9 818.0,630.5 823.4,627.0 C828.8,623.5 837.5,623.1 843.3,620.8 C849.1,618.5 853.2,614.2 858.2,613.4 C863.2,612.6 868.6,614.4 873.1,615.9 C877.6,617.4 881.4,619.6 885.5,622.1 C889.6,624.6 893.8,627.9 897.9,630.8 C902.0,633.7 906.2,637.1 910.3,639.4 C914.4,641.7 916.5,642.9 922.7,644.4 C928.9,645.9 939.3,646.5 947.6,648.1 C955.9,649.8 966.1,651.2 972.3,654.3 C978.5,657.4 980.6,664.3 984.8,666.8 C988.9,669.3 991.0,668.8 997.2,669.2 C1003.4,669.6 1016.5,669.4 1022.0,669.2 C1027.5,669.0 1026.5,668.8 1030.0,668.0 C1033.5,667.2 1038.8,666.4 1043.2,664.7 C1047.6,663.1 1052.6,661.8 1056.5,658.1 C1060.4,654.4 1063.5,648.5 1066.4,642.6 C1069.3,636.7 1071.5,630.7 1074.1,622.8 C1076.7,614.9 1079.5,603.5 1081.9,595.2 C1084.3,586.9 1086.7,579.5 1088.5,573.1 C1090.3,566.7 1091.6,562.1 1092.9,556.6 C1094.2,551.1 1094.9,546.9 1096.2,540.0 C1097.5,533.1 1098.8,525.6 1100.5,515.3 C1102.2,505.0 1104.4,491.4 1106.7,478.3 C1109.0,465.2 1111.8,446.8 1114.3,436.7 C1116.8,426.6 1119.0,423.5 1121.8,417.8 C1124.6,412.1 1127.8,408.1 1131.3,402.7 C1134.8,397.3 1139.0,389.7 1142.7,385.3 C1146.4,380.9 1150.8,378.0 1153.7,376.5 C1156.6,375.0 1157.7,375.4 1160.3,376.5 C1162.9,377.6 1166.1,382.4 1169.1,383.1 C1172.0,383.8 1174.6,383.8 1178.0,380.9 C1181.4,377.9 1186.3,369.2 1189.5,365.4 C1192.7,361.5 1194.7,359.9 1197.0,357.8 C1199.3,355.7 1200.9,355.4 1203.6,352.6 C1206.3,349.9 1210.7,343.2 1213.1,341.3 C1215.5,339.4 1215.9,341.1 1217.8,341.3 C1219.7,341.5 1221.9,342.5 1224.4,342.7 C1226.9,342.9 1230.3,341.6 1233.0,342.7 C1235.7,343.8 1238.2,347.0 1240.5,349.3 C1242.8,351.6 1244.6,355.2 1247.1,356.4 C1249.6,357.6 1252.9,355.8 1255.6,356.4 C1258.3,356.9 1260.8,358.7 1263.2,359.7 C1265.6,360.7 1267.3,361.7 1269.8,362.6 C1272.3,363.6 1275.9,364.0 1278.3,365.4 C1280.7,366.8 1281.8,368.6 1284.0,371.1 C1286.2,373.6 1288.9,377.3 1291.6,380.5 C1294.3,383.7 1297.5,388.0 1300.0,390.4 C1302.5,392.8 1302.7,392.7 1306.4,395.0 C1310.1,397.3 1316.4,404.0 1322.0,404.0 C1327.6,404.0 1334.3,398.0 1339.9,395.0 C1345.5,392.0 1350.8,388.9 1355.6,386.1 C1360.4,383.3 1364.2,379.2 1369.0,378.3 C1373.8,377.4 1380.1,378.8 1384.6,380.5 C1389.1,382.2 1391.7,385.5 1395.8,388.3 C1399.9,391.1 1404.7,394.4 1409.2,397.2 C1413.7,400.0 1418.1,405.1 1422.6,405.1 C1427.1,405.1 1431.5,398.9 1436.0,397.2 C1440.5,395.5 1445.7,393.5 1449.4,395.0 C1453.1,396.5 1455.3,401.3 1458.3,406.2 C1461.3,411.1 1463.6,416.7 1467.3,424.1 C1471.0,431.6 1476.2,441.2 1480.7,450.9 C1485.2,460.6 1490.0,473.3 1494.1,482.2 C1498.2,491.1 1501.2,497.8 1505.3,504.5 C1509.4,511.2 1513.9,519.2 1518.7,522.4 C1523.5,525.6 1529.1,522.8 1534.3,523.5 C1539.5,524.2 1544.8,524.9 1550.0,526.8 C1555.2,528.7 1563.0,533.4 1565.6,534.7" fill="none" stroke="#4a8f4f" stroke-width="1" stroke-linejoin="round"/>
<path d="M201.8,1092.2 C204.9,1089.5 214.3,1081.9 220.6,1076.1 C226.8,1070.3 232.6,1064.1 239.3,1057.4 C246.0,1050.7 253.5,1042.9 260.7,1036.0 C267.8,1029.1 275.9,1022.4 282.2,1015.9 C288.5,1009.4 292.9,1004.5 298.3,997.1 C303.7,989.7 309.0,980.0 314.3,971.7 C319.6,963.4 324.6,955.8 330.4,947.5 C336.2,939.2 342.9,930.6 349.2,922.1 C355.4,913.6 362.5,903.3 367.9,896.6 C373.2,889.9 376.8,885.9 381.3,881.9 C385.8,877.9 387.6,877.2 394.7,872.5 C401.8,867.8 415.3,860.3 424.2,853.8 C433.1,847.3 439.8,840.2 448.3,833.7 C456.8,827.2 466.6,819.4 475.1,814.9 C483.6,810.4 489.1,811.8 499.2,806.9 C509.3,802.0 525.3,790.1 535.8,785.6 C546.2,781.1 553.3,783.0 561.9,780.0 C570.5,777.0 579.2,771.4 587.1,767.8 C595.0,764.2 602.1,760.4 609.2,758.3 C616.4,756.2 621.2,756.0 630.0,755.2 C638.8,754.4 650.6,754.3 662.1,753.6 C673.6,752.9 689.0,752.0 699.3,751.2 C709.6,750.4 715.8,750.2 724.1,748.7 C732.4,747.2 738.2,744.6 749.0,742.5 C759.8,740.4 778.4,738.6 788.7,736.3 C799.0,734.0 803.1,731.3 811.0,728.8 C818.9,726.3 825.4,724.5 835.8,721.4 C846.1,718.3 860.7,712.7 873.1,710.2 C885.5,707.7 897.9,707.7 910.3,706.5 C922.7,705.3 933.1,703.8 947.6,702.8 C962.1,701.8 980.7,701.5 997.2,700.3 C1013.8,699.0 1035.7,697.0 1046.9,695.3 C1058.1,693.6 1059.3,691.9 1064.3,690.3 C1069.3,688.7 1072.3,688.1 1076.9,685.8 C1081.5,683.5 1088.4,679.3 1092.1,676.5 C1095.8,673.7 1094.9,673.0 1098.8,668.9 C1102.7,664.8 1109.5,657.9 1115.7,652.0 C1121.9,646.1 1129.8,638.5 1136.0,633.5 C1142.2,628.5 1145.2,626.1 1152.8,621.7 C1160.4,617.3 1174.5,611.2 1181.5,607.3 C1188.5,603.3 1189.4,601.8 1195.0,598.0 C1200.6,594.2 1208.8,588.6 1215.3,584.5 C1221.8,580.4 1226.6,577.2 1233.9,573.6 C1241.2,570.0 1252.2,565.6 1259.2,562.6 C1266.2,559.6 1269.9,557.8 1276.1,555.8 C1282.3,553.8 1289.5,552.5 1296.3,550.8 C1303.0,549.1 1311.0,547.2 1316.6,545.7 C1322.2,544.2 1325.0,543.6 1330.1,541.5 C1335.2,539.4 1341.4,535.7 1347.0,533.0 C1352.6,530.3 1358.3,527.5 1363.9,525.4 C1369.5,523.3 1375.4,521.8 1380.7,520.4 C1386.0,519.0 1389.6,518.1 1395.8,516.8 C1402.0,515.4 1410.6,514.2 1418.1,512.3 C1425.5,510.4 1433.8,507.1 1440.5,505.6 C1447.2,504.1 1453.5,503.4 1458.3,503.4 C1463.1,503.4 1464.3,504.9 1469.5,505.6 C1474.7,506.3 1481.4,506.3 1489.6,507.8 C1497.8,509.3 1510.1,513.5 1518.7,514.6 C1527.3,515.7 1532.8,514.2 1541.0,514.6 C1549.2,515.0 1563.5,516.4 1568.0,516.8" fill="none" stroke="#000" stroke-width="3.6" stroke-linejoin="round" stroke-linecap="round"/>
<path d="M128.1,1092.2 C130.6,1085.0 138.7,1061.8 142.9,1049.3 C147.2,1036.8 150.0,1027.9 153.6,1017.2 C157.2,1006.5 159.8,999.3 164.3,985.0 C168.8,970.7 175.5,947.6 180.4,931.5 C185.3,915.4 190.2,898.9 193.8,888.6 C197.4,878.3 199.1,877.4 201.8,869.8 C204.5,862.2 206.7,852.5 209.8,843.1 C212.9,833.7 216.6,823.9 220.6,813.6 C224.6,803.3 229.1,794.3 234.0,781.4 C238.9,768.5 244.0,751.1 249.8,736.2 C255.6,721.3 262.9,704.2 268.7,692.1 C274.5,680.0 279.2,673.7 284.5,663.7 C289.8,653.7 294.4,645.9 300.2,632.2 C306.0,618.6 313.4,593.9 319.2,581.8 C325.0,569.7 328.6,567.1 334.9,559.7 C341.2,552.3 349.6,545.2 357.0,537.6 C364.4,530.0 372.2,518.5 379.0,514.0 C385.8,509.5 389.6,512.6 398.0,510.8 C406.4,509.0 421.6,506.7 429.5,503.0 C437.4,499.3 440.6,493.5 445.3,488.8 C450.0,484.1 453.2,477.5 457.9,474.6 C462.6,471.7 466.8,471.1 473.6,471.4 C480.4,471.7 492.0,475.1 498.8,476.2 C505.6,477.2 509.9,475.3 514.6,477.7 C519.3,480.1 521.9,483.5 527.2,490.3 C532.5,497.1 538.8,508.2 546.2,518.7 C553.6,529.2 564.6,544.5 571.4,553.4 C578.2,562.3 582.3,568.1 587.1,572.3 C591.9,576.5 595.4,576.7 600.0,578.6 C604.6,580.5 609.5,581.5 614.9,583.6 C620.3,585.7 626.5,587.5 632.3,591.0 C638.1,594.5 644.3,599.3 649.7,604.7 C655.1,610.1 659.1,617.1 664.5,623.3 C669.9,629.5 676.1,637.3 681.9,641.9 C687.7,646.5 693.5,648.1 699.3,650.6 C705.1,653.1 711.3,654.5 716.7,656.8 C722.1,659.1 726.2,662.4 731.6,664.3 C737.0,666.2 744.0,667.6 749.0,668.0 C754.0,668.4 756.4,666.0 761.4,666.8 C766.4,667.6 772.9,671.6 778.7,673.0 C784.5,674.4 789.9,675.4 796.1,675.4 C802.3,675.4 809.8,674.0 816.0,673.0 C822.2,672.0 828.0,670.9 833.4,669.2 C838.8,667.5 842.5,665.5 848.3,663.0 C854.1,660.5 862.3,657.4 868.1,654.3 C873.9,651.2 878.0,646.5 883.0,644.4 C888.0,642.3 892.1,642.7 897.9,641.9 C903.7,641.1 911.2,640.7 917.8,639.4 C924.4,638.1 930.6,634.8 937.6,634.0 C944.6,633.2 952.5,633.8 960.0,634.5 C967.5,635.2 974.4,637.2 982.3,638.2 C990.1,639.2 999.1,638.9 1007.1,640.7 C1015.1,642.5 1021.6,646.6 1030.0,649.2 C1038.4,651.8 1051.5,655.6 1057.6,656.4 C1063.7,657.1 1063.1,655.5 1066.4,653.7 C1069.7,652.0 1073.2,649.5 1077.4,645.9 C1081.6,642.3 1087.8,637.3 1091.4,632.3 C1095.0,627.3 1096.6,621.2 1099.2,616.0 C1101.8,610.8 1104.6,605.7 1107.0,601.1 C1109.4,596.5 1111.2,592.9 1113.4,588.3 C1115.7,583.7 1118.2,577.6 1120.5,573.4 C1122.8,569.1 1124.8,566.5 1126.9,562.8 C1129.0,559.1 1131.5,555.1 1133.3,551.4 C1135.1,547.7 1134.9,545.6 1137.9,540.8 C1140.9,536.0 1145.8,529.3 1151.1,522.6 C1156.4,515.9 1164.8,507.2 1170.0,500.7 C1175.2,494.1 1179.4,488.2 1182.6,483.3 C1185.8,478.4 1186.4,476.1 1188.9,471.5 C1191.4,466.9 1194.8,461.1 1197.6,455.8 C1200.4,450.6 1202.9,445.0 1205.5,440.0 C1208.1,435.0 1210.2,430.8 1213.1,425.9 C1215.9,421.0 1219.3,416.0 1222.6,410.8 C1225.9,405.6 1229.7,399.0 1233.0,394.7 C1236.3,390.4 1239.2,388.5 1242.4,385.2 C1245.6,381.9 1248.8,378.9 1251.9,374.8 C1255.1,370.7 1258.3,364.9 1261.3,360.7 C1264.3,356.4 1267.1,352.5 1269.8,349.3 C1272.5,346.1 1275.0,343.4 1277.4,341.7 C1279.8,340.0 1281.6,339.4 1284.0,338.9 C1286.4,338.3 1288.9,338.2 1291.6,338.4 C1294.3,338.6 1297.9,339.8 1300.0,340.3 C1302.1,340.8 1300.9,339.0 1304.2,341.4 C1307.5,343.8 1314.6,350.5 1319.8,354.8 C1325.0,359.1 1330.3,364.5 1335.5,367.1 C1340.7,369.7 1346.3,369.5 1351.1,370.4 C1355.9,371.3 1359.3,372.3 1364.5,372.7 C1369.7,373.1 1377.2,372.3 1382.4,372.7 C1387.6,373.1 1391.7,373.2 1395.8,374.9 C1399.9,376.6 1401.8,379.5 1407.0,382.7 C1412.2,385.9 1420.8,391.5 1427.1,393.9 C1433.4,396.3 1439.7,396.3 1444.9,397.2 C1450.1,398.1 1454.6,397.6 1458.3,399.5 C1462.0,401.4 1463.6,405.0 1467.3,408.4 C1471.0,411.8 1475.9,415.1 1480.7,419.6 C1485.5,424.1 1491.8,431.1 1496.3,435.2 C1500.8,439.3 1503.4,441.6 1507.5,444.2 C1511.6,446.8 1515.7,448.7 1520.9,450.9 C1526.1,453.1 1533.6,454.6 1538.8,457.6 C1544.0,460.6 1547.3,464.6 1552.2,468.7 C1557.1,472.8 1565.4,479.9 1568.0,482.2" fill="none" stroke="#5b9cf6" stroke-width="3" stroke-linejoin="round" stroke-linecap="round"/>
<path d="M137.5,1092.2 C140.2,1086.4 148.2,1069.5 153.6,1057.4 C159.0,1045.4 165.2,1030.0 169.7,1019.9 C174.2,1009.8 176.4,1004.2 180.4,997.1 C184.4,990.0 189.3,983.5 193.8,977.0 C198.3,970.5 202.7,964.3 207.2,958.3 C211.7,952.3 215.2,947.1 220.6,940.8 C225.9,934.5 234.4,926.5 239.3,920.7 C244.2,914.9 245.5,912.2 250.0,906.0 C254.5,899.8 260.7,890.1 266.1,883.2 C271.5,876.3 277.1,871.2 282.2,864.5 C287.3,857.8 292.0,851.6 296.9,843.1 C301.8,834.6 308.3,821.7 311.7,813.6 C315.1,805.5 314.8,800.6 317.0,794.8 C319.2,789.0 321.9,784.6 325.0,778.8 C328.1,773.0 331.5,768.1 335.8,760.0 C340.1,751.9 343.5,742.4 350.7,730.0 C357.9,717.6 370.6,695.3 379.0,685.8 C387.4,676.3 393.2,677.1 401.1,673.2 C409.0,669.3 418.9,666.4 426.3,662.2 C433.7,658.0 439.5,652.0 445.3,648.0 C451.1,644.0 456.3,641.1 461.0,638.5 C465.7,635.9 467.3,632.8 473.6,632.2 C479.9,631.6 490.4,636.3 498.8,634.7 C507.2,633.1 516.2,624.0 524.1,622.8 C532.0,621.6 537.3,627.2 546.2,627.5 C555.1,627.8 568.2,625.3 577.7,624.3 C587.2,623.2 596.6,621.8 602.9,621.2 C609.2,620.6 610.6,619.7 615.5,620.5 C620.4,621.3 626.6,623.9 632.3,625.8 C638.0,627.7 642.7,628.9 649.7,632.0 C656.7,635.1 666.2,641.5 674.5,644.4 C682.8,647.3 691.8,647.5 699.3,649.4 C706.8,651.3 713.0,654.6 719.2,655.6 C725.4,656.6 729.9,655.6 736.5,655.6 C743.1,655.6 750.2,655.2 758.9,655.6 C767.6,656.0 780.9,658.5 788.7,658.1 C796.6,657.7 800.2,655.2 806.0,653.1 C811.8,651.0 816.4,647.7 823.4,645.6 C830.4,643.5 840.0,641.9 848.3,640.7 C856.6,639.5 864.8,638.2 873.1,638.2 C881.4,638.2 889.6,639.9 897.9,640.7 C906.2,641.5 914.4,642.6 922.7,643.2 C931.0,643.8 939.3,643.8 947.6,644.4 C955.9,645.0 964.0,645.4 972.3,646.9 C980.6,648.4 988.9,651.9 997.2,653.1 C1005.5,654.3 1016.5,654.2 1022.0,654.3 C1027.5,654.4 1024.1,654.0 1030.0,653.7 C1035.9,653.4 1051.5,653.9 1057.6,652.6 C1063.7,651.3 1063.1,648.5 1066.4,645.9 C1069.7,643.3 1073.5,640.7 1077.4,637.1 C1081.3,633.5 1086.7,628.7 1090.0,624.5 C1093.3,620.3 1094.7,615.9 1097.1,611.7 C1099.5,607.6 1101.8,603.9 1104.2,599.6 C1106.6,595.4 1109.2,590.1 1111.3,586.2 C1113.4,582.3 1114.9,579.4 1117.0,576.2 C1119.1,573.0 1121.4,570.1 1124.0,567.0 C1126.6,563.9 1129.9,560.6 1132.6,557.8 C1135.3,555.0 1136.6,553.4 1140.0,550.0 C1143.4,546.6 1149.0,540.7 1152.8,537.5 C1156.6,534.3 1159.8,532.7 1162.7,530.9 C1165.6,529.1 1166.7,528.9 1170.0,526.7 C1173.3,524.6 1179.2,520.9 1182.6,518.0 C1186.0,515.1 1186.8,513.1 1190.5,509.3 C1194.2,505.5 1200.6,499.0 1204.7,495.2 C1208.8,491.4 1212.2,488.6 1214.9,486.5 C1217.7,484.4 1218.2,484.7 1221.2,482.6 C1224.2,480.5 1228.7,476.0 1233.0,473.9 C1237.3,471.8 1242.9,471.7 1247.2,470.0 C1251.5,468.3 1255.2,465.3 1259.0,463.6 C1262.8,461.9 1267.3,460.7 1270.0,459.7 C1272.7,458.7 1270.9,458.1 1275.1,457.6 C1279.3,457.1 1288.1,457.1 1295.2,456.5 C1302.3,455.9 1310.1,455.5 1317.6,454.2 C1325.0,452.9 1332.5,451.2 1339.9,448.6 C1347.4,446.0 1354.8,441.4 1362.3,438.6 C1369.8,435.8 1377.1,432.8 1384.6,431.9 C1392.0,431.0 1399.5,433.4 1407.0,433.0 C1414.5,432.6 1422.2,430.9 1429.3,429.6 C1436.4,428.3 1444.2,425.6 1449.4,425.2 C1454.6,424.8 1456.5,425.3 1460.6,427.4 C1464.7,429.4 1468.8,434.0 1474.0,437.5 C1479.2,441.0 1486.3,445.2 1491.9,448.6 C1497.5,452.0 1501.9,454.6 1507.5,457.6 C1513.1,460.6 1519.1,464.3 1525.4,466.5 C1531.7,468.7 1538.4,468.8 1545.5,471.0 C1552.6,473.2 1564.2,478.5 1568.0,480.0" fill="none" stroke="#ff9800" stroke-width="3.8" stroke-linejoin="round" stroke-linecap="round"/>
<rect x="45" y="1001" width="1" height="92" fill="#089981"/>
<rect x="44" y="1055" width="3" height="38" fill="#089981"/>
<rect x="49" y="1041" width="1" height="52" fill="#f23645"/>
<rect x="48" y="1055" width="3" height="25" fill="#f23645"/>
<rect x="53" y="1031" width="1" height="62" fill="#089981"/>
<rect x="52" y="1059" width="3" height="21" fill="#089981"/>
<rect x="58" y="1045" width="1" height="29" fill="#f23645"/>
<rect x="57" y="1059" width="3" height="5" fill="#f23645"/>
<rect x="62" y="1045" width="1" height="29" fill="#089981"/>
<rect x="61" y="1061" width="3" height="3" fill="#089981"/>
<rect x="66" y="1003" width="1" height="67" fill="#089981"/>
<rect x="65" y="1008" width="3" height="53" fill="#089981"/>
<rect x="71" y="918" width="1" height="94" fill="#089981"/>
<rect x="70" y="928" width="3" height="81" fill="#089981"/>
<rect x="75" y="870" width="1" height="83" fill="#f23645"/>
<rect x="74" y="928" width="3" height="1" fill="#f23645"/>
<rect x="79" y="912" width="1" height="79" fill="#f23645"/>
<rect x="78" y="929" width="3" height="14" fill="#f23645"/>
<rect x="84" y="904" width="1" height="65" fill="#f23645"/>
<rect x="83" y="943" width="3" height="6" fill="#f23645"/>
<rect x="88" y="933" width="1" height="63" fill="#f23645"/>
<rect x="87" y="949" width="3" height="5" fill="#f23645"/>
<rect x="92" y="910" width="1" height="60" fill="#089981"/>
<rect x="91" y="929" width="3" height="25" fill="#089981"/>
<rect x="97" y="900" width="1" height="43" fill="#089981"/>
<rect x="96" y="901" width="3" height="29" fill="#089981"/>
<rect x="101" y="803" width="1" height="106" fill="#089981"/>
<rect x="100" y="809" width="3" height="93" fill="#089981"/>
<rect x="105" y="752" width="1" height="70" fill="#089981"/>
<rect x="104" y="752" width="3" height="58" fill="#089981"/>
<rect x="110" y="609" width="1" height="181" fill="#089981"/>
<rect x="109" y="630" width="3" height="125" fill="#089981"/>
<rect x="114" y="420" width="1" height="242" fill="#089981"/>
<rect x="113" y="473" width="3" height="157" fill="#089981"/>
<rect x="118" y="406" width="1" height="239" fill="#f23645"/>
<rect x="117" y="473" width="3" height="78" fill="#f23645"/>
<rect x="123" y="490" width="1" height="145" fill="#f23645"/>
<rect x="122" y="551" width="3" height="56" fill="#f23645"/>
<rect x="127" y="557" width="1" height="116" fill="#f23645"/>
<rect x="126" y="607" width="3" height="41" fill="#f23645"/>
<rect x="131" y="569" width="1" height="85" fill="#089981"/>
<rect x="130" y="583" width="3" height="65" fill="#089981"/>
<rect x="136" y="511" width="1" height="86" fill="#089981"/>
<rect x="135" y="515" width="3" height="68" fill="#089981"/>
<rect x="140" y="501" width="1" height="58" fill="#f23645"/>
<rect x="139" y="515" width="3" height="4" fill="#f23645"/>
<rect x="144" y="515" width="1" height="219" fill="#f23645"/>
<rect x="143" y="518" width="3" height="142" fill="#f23645"/>
<rect x="149" y="584" width="1" height="187" fill="#089981"/>
<rect x="148" y="603" width="3" height="57" fill="#089981"/>
<rect x="153" y="566" width="1" height="87" fill="#089981"/>
<rect x="152" y="593" width="3" height="9" fill="#089981"/>
<rect x="157" y="562" width="1" height="61" fill="#f23645"/>
<rect x="156" y="593" width="3" height="20" fill="#f23645"/>
<rect x="162" y="562" width="1" height="71" fill="#089981"/>
<rect x="161" y="583" width="3" height="30" fill="#089981"/>
<rect x="166" y="543" width="1" height="64" fill="#f23645"/>
<rect x="165" y="583" width="3" height="8" fill="#f23645"/>
<rect x="170" y="565" width="1" height="38" fill="#089981"/>
<rect x="169" y="574" width="3" height="17" fill="#089981"/>
<rect x="175" y="523" width="1" height="92" fill="#089981"/>
<rect x="174" y="560" width="3" height="14" fill="#089981"/>
<rect x="179" y="472" width="1" height="104" fill="#089981"/>
<rect x="178" y="530" width="3" height="30" fill="#089981"/>
<rect x="183" y="522" width="1" height="124" fill="#f23645"/>
<rect x="182" y="530" width="3" height="94" fill="#f23645"/>
<rect x="188" y="580" width="1" height="97" fill="#f23645"/>
<rect x="187" y="624" width="3" height="25" fill="#f23645"/>
<rect x="192" y="607" width="1" height="143" fill="#089981"/>
<rect x="191" y="635" width="3" height="14" fill="#089981"/>
<rect x="196" y="596" width="1" height="71" fill="#f23645"/>
<rect x="195" y="635" width="3" height="15" fill="#f23645"/>
<rect x="201" y="631" width="1" height="45" fill="#f23645"/>
<rect x="200" y="650" width="3" height="12" fill="#f23645"/>
<rect x="205" y="634" width="1" height="53" fill="#089981"/>
<rect x="204" y="642" width="3" height="20" fill="#089981"/>
<rect x="209" y="610" width="1" height="46" fill="#089981"/>
<rect x="208" y="620" width="3" height="22" fill="#089981"/>
<rect x="214" y="616" width="1" height="24" fill="#f23645"/>
<rect x="213" y="620" width="3" height="8" fill="#f23645"/>
<rect x="218" y="621" width="1" height="68" fill="#f23645"/>
<rect x="217" y="628" width="3" height="52" fill="#f23645"/>
<rect x="222" y="651" width="1" height="41" fill="#f23645"/>
<rect x="221" y="680" width="3" height="4" fill="#f23645"/>
<rect x="227" y="662" width="1" height="24" fill="#089981"/>
<rect x="226" y="668" width="3" height="16" fill="#089981"/>
<rect x="231" y="664" width="1" height="42" fill="#f23645"/>
<rect x="230" y="668" width="3" height="35" fill="#f23645"/>
<rect x="235" y="681" width="1" height="57" fill="#f23645"/>
<rect x="234" y="703" width="3" height="13" fill="#f23645"/>
<rect x="239" y="683" width="1" height="49" fill="#089981"/>
<rect x="238" y="706" width="3" height="10" fill="#089981"/>
<rect x="244" y="609" width="1" height="97" fill="#089981"/>
<rect x="243" y="615" width="3" height="91" fill="#089981"/>
<rect x="248" y="572" width="1" height="44" fill="#089981"/>
<rect x="247" y="590" width="3" height="25" fill="#089981"/>
<rect x="252" y="563" width="1" height="28" fill="#089981"/>
<rect x="251" y="571" width="3" height="19" fill="#089981"/>
<rect x="257" y="552" width="1" height="38" fill="#f23645"/>
<rect x="256" y="571" width="3" height="13" fill="#f23645"/>
<rect x="261" y="581" width="1" height="36" fill="#f23645"/>
<rect x="260" y="583" width="3" height="5" fill="#f23645"/>
<rect x="265" y="570" width="1" height="33" fill="#089981"/>
<rect x="264" y="584" width="3" height="7" fill="#089981"/>
<rect x="270" y="566" width="1" height="77" fill="#f23645"/>
<rect x="269" y="584" width="3" height="55" fill="#f23645"/>
<rect x="274" y="593" width="1" height="71" fill="#089981"/>
<rect x="273" y="601" width="3" height="38" fill="#089981"/>
<rect x="278" y="593" width="1" height="57" fill="#f23645"/>
<rect x="277" y="601" width="3" height="37" fill="#f23645"/>
<rect x="283" y="603" width="1" height="44" fill="#089981"/>
<rect x="282" y="620" width="3" height="18" fill="#089981"/>
<rect x="287" y="517" width="1" height="100" fill="#089981"/>
<rect x="286" y="527" width="3" height="86" fill="#089981"/>
<rect x="291" y="524" width="1" height="41" fill="#f23645"/>
<rect x="290" y="527" width="3" height="38" fill="#f23645"/>
<rect x="296" y="532" width="1" height="84" fill="#089981"/>
<rect x="295" y="546" width="3" height="7" fill="#089981"/>
<rect x="300" y="481" width="1" height="68" fill="#089981"/>
<rect x="299" y="494" width="3" height="53" fill="#089981"/>
<rect x="304" y="301" width="1" height="199" fill="#089981"/>
<rect x="303" y="321" width="3" height="173" fill="#089981"/>
<rect x="309" y="228" width="1" height="173" fill="#089981"/>
<rect x="308" y="284" width="3" height="38" fill="#089981"/>
<rect x="313" y="245" width="1" height="65" fill="#089981"/>
<rect x="312" y="267" width="3" height="17" fill="#089981"/>
<rect x="317" y="265" width="1" height="86" fill="#f23645"/>
<rect x="316" y="267" width="3" height="8" fill="#f23645"/>
<rect x="322" y="267" width="1" height="168" fill="#f23645"/>
<rect x="321" y="275" width="3" height="114" fill="#f23645"/>
<rect x="326" y="239" width="1" height="166" fill="#089981"/>
<rect x="325" y="335" width="3" height="54" fill="#089981"/>
<rect x="330" y="284" width="1" height="85" fill="#089981"/>
<rect x="329" y="310" width="3" height="26" fill="#089981"/>
<rect x="335" y="270" width="1" height="58" fill="#089981"/>
<rect x="334" y="308" width="3" height="2" fill="#089981"/>
<rect x="339" y="306" width="1" height="53" fill="#f23645"/>
<rect x="338" y="307" width="3" height="24" fill="#f23645"/>
<rect x="343" y="300" width="1" height="52" fill="#f23645"/>
<rect x="342" y="330" width="3" height="8" fill="#f23645"/>
<rect x="348" y="321" width="1" height="24" fill="#089981"/>
<rect x="347" y="334" width="3" height="4" fill="#089981"/>
<rect x="352" y="321" width="1" height="48" fill="#f23645"/>
<rect x="351" y="334" width="3" height="31" fill="#f23645"/>
<rect x="356" y="351" width="1" height="147" fill="#089981"/>
<rect x="355" y="353" width="3" height="12" fill="#089981"/>
<rect x="361" y="296" width="1" height="75" fill="#089981"/>
<rect x="360" y="353" width="3" height="1" fill="#089981"/>
<rect x="365" y="324" width="1" height="60" fill="#089981"/>
<rect x="364" y="350" width="3" height="3" fill="#089981"/>
<rect x="369" y="317" width="1" height="39" fill="#089981"/>
<rect x="368" y="327" width="3" height="23" fill="#089981"/>
<rect x="374" y="325" width="1" height="46" fill="#f23645"/>
<rect x="373" y="327" width="3" height="34" fill="#f23645"/>
<rect x="378" y="347" width="1" height="88" fill="#f23645"/>
<rect x="377" y="360" width="3" height="58" fill="#f23645"/>
<rect x="382" y="389" width="1" height="180" fill="#f23645"/>
<rect x="381" y="418" width="3" height="108" fill="#f23645"/>
<rect x="387" y="453" width="1" height="365" fill="#089981"/>
<rect x="386" y="482" width="3" height="44" fill="#089981"/>
<rect x="391" y="449" width="1" height="126" fill="#f23645"/>
<rect x="390" y="482" width="3" height="63" fill="#f23645"/>
<rect x="395" y="530" width="1" height="82" fill="#f23645"/>
<rect x="394" y="545" width="3" height="54" fill="#f23645"/>
<rect x="400" y="566" width="1" height="69" fill="#f23645"/>
<rect x="399" y="598" width="3" height="20" fill="#f23645"/>
<rect x="404" y="540" width="1" height="100" fill="#089981"/>
<rect x="403" y="592" width="3" height="26" fill="#089981"/>
<rect x="408" y="578" width="1" height="27" fill="#089981"/>
<rect x="407" y="585" width="3" height="7" fill="#089981"/>
<rect x="413" y="552" width="1" height="71" fill="#f23645"/>
<rect x="412" y="585" width="3" height="9" fill="#f23645"/>
<rect x="417" y="562" width="1" height="56" fill="#089981"/>
<rect x="416" y="585" width="3" height="9" fill="#089981"/>
<rect x="421" y="544" width="1" height="73" fill="#f23645"/>
<rect x="420" y="583" width="3" height="4" fill="#f23645"/>
<rect x="425" y="555" width="1" height="60" fill="#089981"/>
<rect x="424" y="564" width="3" height="23" fill="#089981"/>
<rect x="430" y="516" width="1" height="69" fill="#089981"/>
<rect x="429" y="532" width="3" height="32" fill="#089981"/>
<rect x="434" y="433" width="1" height="117" fill="#089981"/>
<rect x="433" y="468" width="3" height="66" fill="#089981"/>
<rect x="438" y="434" width="1" height="42" fill="#089981"/>
<rect x="437" y="459" width="3" height="10" fill="#089981"/>
<rect x="443" y="444" width="1" height="32" fill="#f23645"/>
<rect x="442" y="459" width="3" height="14" fill="#f23645"/>
<rect x="447" y="459" width="1" height="47" fill="#f23645"/>
<rect x="446" y="473" width="3" height="24" fill="#f23645"/>
<rect x="451" y="491" width="1" height="74" fill="#f23645"/>
<rect x="450" y="497" width="3" height="35" fill="#f23645"/>
<rect x="456" y="466" width="1" height="84" fill="#089981"/>
<rect x="455" y="468" width="3" height="64" fill="#089981"/>
<rect x="460" y="464" width="1" height="46" fill="#f23645"/>
<rect x="459" y="468" width="3" height="20" fill="#f23645"/>
<rect x="464" y="478" width="1" height="74" fill="#f23645"/>
<rect x="463" y="488" width="3" height="41" fill="#f23645"/>
<rect x="469" y="519" width="1" height="21" fill="#089981"/>
<rect x="468" y="527" width="3" height="2" fill="#089981"/>
<rect x="473" y="520" width="1" height="20" fill="#f23645"/>
<rect x="472" y="527" width="3" height="1" fill="#f23645"/>
<rect x="477" y="524" width="1" height="124" fill="#f23645"/>
<rect x="476" y="527" width="3" height="105" fill="#f23645"/>
<rect x="482" y="603" width="1" height="110" fill="#089981"/>
<rect x="481" y="620" width="3" height="12" fill="#089981"/>
<rect x="486" y="617" width="1" height="58" fill="#f23645"/>
<rect x="485" y="620" width="3" height="45" fill="#f23645"/>
<rect x="490" y="663" width="1" height="20" fill="#f23645"/>
<rect x="489" y="665" width="3" height="5" fill="#f23645"/>
<rect x="495" y="664" width="1" height="90" fill="#f23645"/>
<rect x="494" y="670" width="3" height="15" fill="#f23645"/>
<rect x="499" y="668" width="1" height="22" fill="#089981"/>
<rect x="498" y="676" width="3" height="9" fill="#089981"/>
<rect x="503" y="375" width="1" height="295" fill="#089981"/>
<rect x="502" y="395" width="3" height="273" fill="#089981"/>
<rect x="508" y="385" width="1" height="280" fill="#f23645"/>
<rect x="507" y="395" width="3" height="202" fill="#f23645"/>
<rect x="512" y="541" width="1" height="117" fill="#089981"/>
<rect x="511" y="572" width="3" height="25" fill="#089981"/>
<rect x="516" y="541" width="1" height="48" fill="#089981"/>
<rect x="515" y="555" width="3" height="17" fill="#089981"/>
<rect x="521" y="502" width="1" height="58" fill="#089981"/>
<rect x="520" y="519" width="3" height="36" fill="#089981"/>
<rect x="525" y="512" width="1" height="98" fill="#f23645"/>
<rect x="524" y="519" width="3" height="78" fill="#f23645"/>
<rect x="529" y="589" width="1" height="36" fill="#f23645"/>
<rect x="528" y="597" width="3" height="25" fill="#f23645"/>
<rect x="534" y="610" width="1" height="94" fill="#f23645"/>
<rect x="533" y="622" width="3" height="64" fill="#f23645"/>
<rect x="538" y="642" width="1" height="96" fill="#f23645"/>
<rect x="537" y="686" width="3" height="42" fill="#f23645"/>
<rect x="542" y="660" width="1" height="111" fill="#089981"/>
<rect x="541" y="675" width="3" height="53" fill="#089981"/>
<rect x="547" y="642" width="1" height="41" fill="#089981"/>
<rect x="546" y="650" width="3" height="25" fill="#089981"/>
<rect x="551" y="636" width="1" height="18" fill="#089981"/>
<rect x="550" y="643" width="3" height="7" fill="#089981"/>
<rect x="555" y="597" width="1" height="58" fill="#089981"/>
<rect x="554" y="607" width="3" height="41" fill="#089981"/>
<rect x="560" y="564" width="1" height="48" fill="#089981"/>
<rect x="559" y="595" width="3" height="12" fill="#089981"/>
<rect x="564" y="587" width="1" height="45" fill="#f23645"/>
<rect x="563" y="595" width="3" height="35" fill="#f23645"/>
<rect x="568" y="603" width="1" height="37" fill="#089981"/>
<rect x="567" y="613" width="3" height="17" fill="#089981"/>
<rect x="573" y="594" width="1" height="59" fill="#f23645"/>
<rect x="572" y="613" width="3" height="19" fill="#f23645"/>
<rect x="577" y="522" width="1" height="118" fill="#089981"/>
<rect x="576" y="539" width="3" height="94" fill="#089981"/>
<rect x="581" y="532" width="1" height="63" fill="#f23645"/>
<rect x="580" y="538" width="3" height="39" fill="#f23645"/>
<rect x="586" y="576" width="1" height="30" fill="#f23645"/>
<rect x="585" y="577" width="3" height="18" fill="#f23645"/>
<rect x="590" y="584" width="1" height="22" fill="#f23645"/>
<rect x="589" y="598" width="3" height="5" fill="#f23645"/>
<rect x="594" y="576" width="1" height="28" fill="#089981"/>
<rect x="593" y="577" width="3" height="26" fill="#089981"/>
<rect x="599" y="554" width="1" height="30" fill="#089981"/>
<rect x="598" y="573" width="3" height="4" fill="#089981"/>
<rect x="603" y="563" width="1" height="25" fill="#f23645"/>
<rect x="602" y="573" width="3" height="1" fill="#f23645"/>
<rect x="607" y="562" width="1" height="55" fill="#f23645"/>
<rect x="606" y="573" width="3" height="36" fill="#f23645"/>
<rect x="612" y="595" width="1" height="32" fill="#f23645"/>
<rect x="611" y="609" width="3" height="3" fill="#f23645"/>
<rect x="616" y="612" width="1" height="67" fill="#f23645"/>
<rect x="615" y="612" width="3" height="51" fill="#f23645"/>
<rect x="620" y="655" width="1" height="58" fill="#f23645"/>
<rect x="619" y="663" width="3" height="25" fill="#f23645"/>
<rect x="624" y="658" width="1" height="39" fill="#089981"/>
<rect x="623" y="686" width="3" height="2" fill="#089981"/>
<rect x="629" y="672" width="1" height="55" fill="#f23645"/>
<rect x="628" y="686" width="3" height="19" fill="#f23645"/>
<rect x="633" y="664" width="1" height="48" fill="#089981"/>
<rect x="632" y="686" width="3" height="19" fill="#089981"/>
<rect x="637" y="653" width="1" height="88" fill="#f23645"/>
<rect x="636" y="686" width="3" height="43" fill="#f23645"/>
<rect x="642" y="702" width="1" height="47" fill="#089981"/>
<rect x="641" y="713" width="3" height="16" fill="#089981"/>
<rect x="646" y="678" width="1" height="35" fill="#089981"/>
<rect x="645" y="689" width="3" height="24" fill="#089981"/>
<rect x="650" y="674" width="1" height="26" fill="#089981"/>
<rect x="649" y="685" width="3" height="4" fill="#089981"/>
<rect x="655" y="680" width="1" height="106" fill="#f23645"/>
<rect x="654" y="685" width="3" height="80" fill="#f23645"/>
<rect x="659" y="733" width="1" height="142" fill="#f23645"/>
<rect x="658" y="765" width="3" height="8" fill="#f23645"/>
<rect x="663" y="759" width="1" height="58" fill="#f23645"/>
<rect x="662" y="773" width="3" height="38" fill="#f23645"/>
<rect x="668" y="705" width="1" height="131" fill="#089981"/>
<rect x="667" y="718" width="3" height="93" fill="#089981"/>
<rect x="672" y="715" width="1" height="25" fill="#f23645"/>
<rect x="671" y="718" width="3" height="31" fill="#f23645"/>
<rect x="676" y="705" width="1" height="50" fill="#089981"/>
<rect x="675" y="715" width="3" height="34" fill="#089981"/>
<rect x="681" y="670" width="1" height="65" fill="#089981"/>
<rect x="680" y="678" width="3" height="37" fill="#089981"/>
<rect x="685" y="655" width="1" height="45" fill="#f23645"/>
<rect x="684" y="678" width="3" height="16" fill="#f23645"/>
<rect x="689" y="672" width="1" height="28" fill="#089981"/>
<rect x="688" y="689" width="3" height="5" fill="#089981"/>
<rect x="694" y="670" width="1" height="40" fill="#f23645"/>
<rect x="693" y="689" width="3" height="18" fill="#f23645"/>
<rect x="698" y="694" width="1" height="27" fill="#f23645"/>
<rect x="697" y="707" width="3" height="4" fill="#f23645"/>
<rect x="702" y="692" width="1" height="30" fill="#f23645"/>
<rect x="701" y="707" width="3" height="6" fill="#f23645"/>
<rect x="707" y="702" width="1" height="18" fill="#089981"/>
<rect x="706" y="711" width="3" height="3" fill="#089981"/>
<rect x="711" y="703" width="1" height="15" fill="#089981"/>
<rect x="710" y="704" width="3" height="10" fill="#089981"/>
<rect x="715" y="702" width="1" height="19" fill="#f23645"/>
<rect x="714" y="704" width="3" height="4" fill="#f23645"/>
<rect x="720" y="696" width="1" height="16" fill="#089981"/>
<rect x="719" y="705" width="3" height="3" fill="#089981"/>
<rect x="724" y="645" width="1" height="70" fill="#089981"/>
<rect x="723" y="659" width="3" height="46" fill="#089981"/>
<rect x="728" y="628" width="1" height="34" fill="#089981"/>
<rect x="727" y="656" width="3" height="3" fill="#089981"/>
<rect x="733" y="651" width="1" height="42" fill="#f23645"/>
<rect x="732" y="657" width="3" height="7" fill="#f23645"/>
<rect x="737" y="657" width="1" height="19" fill="#f23645"/>
<rect x="736" y="662" width="3" height="8" fill="#f23645"/>
<rect x="741" y="646" width="1" height="26" fill="#089981"/>
<rect x="740" y="667" width="3" height="3" fill="#089981"/>
<rect x="746" y="629" width="1" height="49" fill="#089981"/>
<rect x="745" y="645" width="3" height="23" fill="#089981"/>
<rect x="750" y="604" width="1" height="52" fill="#089981"/>
<rect x="749" y="629" width="3" height="16" fill="#089981"/>
<rect x="754" y="623" width="1" height="32" fill="#f23645"/>
<rect x="753" y="629" width="3" height="22" fill="#f23645"/>
<rect x="759" y="643" width="1" height="47" fill="#f23645"/>
<rect x="758" y="650" width="3" height="17" fill="#f23645"/>
<rect x="763" y="643" width="1" height="27" fill="#089981"/>
<rect x="762" y="658" width="3" height="9" fill="#089981"/>
<rect x="767" y="649" width="1" height="18" fill="#f23645"/>
<rect x="766" y="658" width="3" height="3" fill="#f23645"/>
<rect x="772" y="656" width="1" height="21" fill="#f23645"/>
<rect x="771" y="659" width="3" height="13" fill="#f23645"/>
<rect x="776" y="657" width="1" height="30" fill="#f23645"/>
<rect x="775" y="668" width="3" height="12" fill="#f23645"/>
<rect x="780" y="665" width="1" height="31" fill="#f23645"/>
<rect x="779" y="680" width="3" height="10" fill="#f23645"/>
<rect x="785" y="678" width="1" height="30" fill="#089981"/>
<rect x="784" y="679" width="3" height="11" fill="#089981"/>
<rect x="789" y="675" width="1" height="22" fill="#f23645"/>
<rect x="788" y="680" width="3" height="11" fill="#f23645"/>
<rect x="793" y="616" width="1" height="76" fill="#089981"/>
<rect x="792" y="618" width="3" height="73" fill="#089981"/>
<rect x="798" y="581" width="1" height="52" fill="#089981"/>
<rect x="797" y="611" width="3" height="7" fill="#089981"/>
<rect x="802" y="563" width="1" height="50" fill="#089981"/>
<rect x="801" y="564" width="3" height="47" fill="#089981"/>
<rect x="806" y="560" width="1" height="56" fill="#f23645"/>
<rect x="805" y="564" width="3" height="40" fill="#f23645"/>
<rect x="811" y="500" width="1" height="108" fill="#089981"/>
<rect x="810" y="540" width="3" height="64" fill="#089981"/>
<rect x="815" y="517" width="1" height="66" fill="#089981"/>
<rect x="814" y="525" width="3" height="15" fill="#089981"/>
<rect x="819" y="501" width="1" height="46" fill="#f23645"/>
<rect x="818" y="525" width="3" height="12" fill="#f23645"/>
<rect x="823" y="529" width="1" height="78" fill="#f23645"/>
<rect x="822" y="536" width="3" height="61" fill="#f23645"/>
<rect x="828" y="578" width="1" height="31" fill="#f23645"/>
<rect x="827" y="597" width="3" height="1" fill="#f23645"/>
<rect x="832" y="596" width="1" height="32" fill="#f23645"/>
<rect x="831" y="598" width="3" height="11" fill="#f23645"/>
<rect x="836" y="573" width="1" height="42" fill="#089981"/>
<rect x="835" y="582" width="3" height="27" fill="#089981"/>
<rect x="841" y="577" width="1" height="57" fill="#f23645"/>
<rect x="840" y="582" width="3" height="17" fill="#f23645"/>
<rect x="845" y="589" width="1" height="33" fill="#f23645"/>
<rect x="844" y="598" width="3" height="10" fill="#f23645"/>
<rect x="849" y="582" width="1" height="33" fill="#089981"/>
<rect x="848" y="593" width="3" height="15" fill="#089981"/>
<rect x="854" y="571" width="1" height="24" fill="#089981"/>
<rect x="853" y="581" width="3" height="12" fill="#089981"/>
<rect x="858" y="562" width="1" height="71" fill="#f23645"/>
<rect x="857" y="581" width="3" height="50" fill="#f23645"/>
<rect x="862" y="606" width="1" height="27" fill="#089981"/>
<rect x="861" y="615" width="3" height="16" fill="#089981"/>
<rect x="867" y="611" width="1" height="28" fill="#089981"/>
<rect x="866" y="611" width="3" height="5" fill="#089981"/>
<rect x="871" y="606" width="1" height="23" fill="#f23645"/>
<rect x="870" y="611" width="3" height="14" fill="#f23645"/>
<rect x="875" y="608" width="1" height="30" fill="#089981"/>
<rect x="874" y="622" width="3" height="3" fill="#089981"/>
<rect x="880" y="620" width="1" height="33" fill="#f23645"/>
<rect x="879" y="621" width="3" height="17" fill="#f23645"/>
<rect x="884" y="624" width="1" height="26" fill="#f23645"/>
<rect x="883" y="637" width="3" height="11" fill="#f23645"/>
<rect x="888" y="647" width="1" height="41" fill="#f23645"/>
<rect x="887" y="648" width="3" height="38" fill="#f23645"/>
<rect x="893" y="661" width="1" height="45" fill="#089981"/>
<rect x="892" y="673" width="3" height="13" fill="#089981"/>
<rect x="897" y="668" width="1" height="23" fill="#089981"/>
<rect x="896" y="671" width="3" height="2" fill="#089981"/>
<rect x="901" y="662" width="1" height="24" fill="#089981"/>
<rect x="900" y="665" width="3" height="6" fill="#089981"/>
<rect x="906" y="634" width="1" height="34" fill="#089981"/>
<rect x="905" y="647" width="3" height="18" fill="#089981"/>
<rect x="910" y="641" width="1" height="24" fill="#f23645"/>
<rect x="909" y="647" width="3" height="17" fill="#f23645"/>
<rect x="914" y="654" width="1" height="61" fill="#f23645"/>
<rect x="913" y="663" width="3" height="40" fill="#f23645"/>
<rect x="919" y="668" width="1" height="38" fill="#089981"/>
<rect x="918" y="678" width="3" height="25" fill="#089981"/>
<rect x="923" y="667" width="1" height="16" fill="#089981"/>
<rect x="922" y="671" width="3" height="7" fill="#089981"/>
<rect x="927" y="628" width="1" height="47" fill="#089981"/>
<rect x="926" y="639" width="3" height="34" fill="#089981"/>
<rect x="932" y="617" width="1" height="37" fill="#089981"/>
<rect x="931" y="620" width="3" height="19" fill="#089981"/>
<rect x="936" y="618" width="1" height="23" fill="#f23645"/>
<rect x="935" y="620" width="3" height="6" fill="#f23645"/>
<rect x="940" y="614" width="1" height="30" fill="#f23645"/>
<rect x="939" y="625" width="3" height="18" fill="#f23645"/>
<rect x="945" y="638" width="1" height="35" fill="#f23645"/>
<rect x="944" y="638" width="3" height="30" fill="#f23645"/>
<rect x="949" y="667" width="1" height="38" fill="#f23645"/>
<rect x="948" y="668" width="3" height="15" fill="#f23645"/>
<rect x="953" y="671" width="1" height="24" fill="#f23645"/>
<rect x="952" y="683" width="3" height="3" fill="#f23645"/>
<rect x="958" y="672" width="1" height="14" fill="#089981"/>
<rect x="957" y="676" width="3" height="10" fill="#089981"/>
<rect x="962" y="614" width="1" height="66" fill="#089981"/>
<rect x="961" y="649" width="3" height="27" fill="#089981"/>
<rect x="966" y="644" width="1" height="40" fill="#f23645"/>
<rect x="965" y="649" width="3" height="30" fill="#f23645"/>
<rect x="971" y="672" width="1" height="20" fill="#089981"/>
<rect x="970" y="674" width="3" height="5" fill="#089981"/>
<rect x="975" y="670" width="1" height="13" fill="#f23645"/>
<rect x="974" y="674" width="3" height="2" fill="#f23645"/>
<rect x="979" y="671" width="1" height="33" fill="#f23645"/>
<rect x="978" y="676" width="3" height="18" fill="#f23645"/>
<rect x="984" y="685" width="1" height="50" fill="#f23645"/>
<rect x="983" y="693" width="3" height="21" fill="#f23645"/>
<rect x="988" y="705" width="1" height="63" fill="#f23645"/>
<rect x="987" y="713" width="3" height="18" fill="#f23645"/>
<rect x="992" y="675" width="1" height="74" fill="#089981"/>
<rect x="991" y="679" width="3" height="52" fill="#089981"/>
<rect x="997" y="658" width="1" height="29" fill="#089981"/>
<rect x="996" y="668" width="3" height="11" fill="#089981"/>
<rect x="1001" y="653" width="1" height="22" fill="#f23645"/>
<rect x="1000" y="668" width="3" height="2" fill="#f23645"/>
<rect x="1005" y="660" width="1" height="41" fill="#f23645"/>
<rect x="1004" y="669" width="3" height="31" fill="#f23645"/>
<rect x="1010" y="680" width="1" height="31" fill="#089981"/>
<rect x="1009" y="685" width="3" height="15" fill="#089981"/>
<rect x="1014" y="661" width="1" height="26" fill="#089981"/>
<rect x="1013" y="669" width="3" height="16" fill="#089981"/>
<rect x="1018" y="656" width="1" height="16" fill="#089981"/>
<rect x="1017" y="661" width="3" height="9" fill="#089981"/>
<rect x="1022" y="617" width="1" height="58" fill="#089981"/>
<rect x="1021" y="649" width="3" height="12" fill="#089981"/>
<rect x="1027" y="645" width="1" height="38" fill="#f23645"/>
<rect x="1026" y="649" width="3" height="26" fill="#f23645"/>
<rect x="1031" y="630" width="1" height="45" fill="#089981"/>
<rect x="1030" y="649" width="3" height="26" fill="#089981"/>
<rect x="1035" y="625" width="1" height="29" fill="#089981"/>
<rect x="1034" y="643" width="3" height="11" fill="#089981"/>
<rect x="1040" y="639" width="1" height="25" fill="#f23645"/>
<rect x="1039" y="643" width="3" height="17" fill="#f23645"/>
<rect x="1044" y="651" width="1" height="12" fill="#f23645"/>
<rect x="1043" y="653" width="3" height="7" fill="#f23645"/>
<rect x="1048" y="631" width="1" height="28" fill="#089981"/>
<rect x="1047" y="638" width="3" height="21" fill="#089981"/>
<rect x="1053" y="610" width="1" height="33" fill="#f23645"/>
<rect x="1052" y="638" width="3" height="1" fill="#f23645"/>
<rect x="1057" y="619" width="1" height="20" fill="#089981"/>
<rect x="1056" y="623" width="3" height="16" fill="#089981"/>
<rect x="1061" y="581" width="1" height="42" fill="#089981"/>
<rect x="1060" y="590" width="3" height="33" fill="#089981"/>
<rect x="1066" y="530" width="1" height="63" fill="#089981"/>
<rect x="1065" y="538" width="3" height="55" fill="#089981"/>
<rect x="1070" y="382" width="1" height="167" fill="#089981"/>
<rect x="1069" y="470" width="3" height="69" fill="#089981"/>
<rect x="1074" y="429" width="1" height="66" fill="#089981"/>
<rect x="1073" y="468" width="3" height="2" fill="#089981"/>
<rect x="1079" y="411" width="1" height="63" fill="#089981"/>
<rect x="1078" y="433" width="3" height="36" fill="#089981"/>
<rect x="1083" y="361" width="1" height="77" fill="#089981"/>
<rect x="1082" y="388" width="3" height="46" fill="#089981"/>
<rect x="1087" y="361" width="1" height="83" fill="#f23645"/>
<rect x="1086" y="388" width="3" height="16" fill="#f23645"/>
<rect x="1092" y="337" width="1" height="81" fill="#089981"/>
<rect x="1091" y="360" width="3" height="44" fill="#089981"/>
<rect x="1096" y="175" width="1" height="202" fill="#089981"/>
<rect x="1095" y="199" width="3" height="161" fill="#089981"/>
<rect x="1100" y="134" width="1" height="115" fill="#f23645"/>
<rect x="1099" y="199" width="3" height="24" fill="#f23645"/>
<rect x="1105" y="197" width="1" height="47" fill="#089981"/>
<rect x="1104" y="219" width="3" height="4" fill="#089981"/>
<rect x="1109" y="171" width="1" height="61" fill="#089981"/>
<rect x="1108" y="209" width="3" height="10" fill="#089981"/>
<rect x="1113" y="138" width="1" height="86" fill="#089981"/>
<rect x="1112" y="174" width="3" height="35" fill="#089981"/>
<rect x="1118" y="164" width="1" height="56" fill="#089981"/>
<rect x="1117" y="174" width="3" height="1" fill="#089981"/>
<rect x="1122" y="174" width="1" height="192" fill="#f23645"/>
<rect x="1121" y="174" width="3" height="133" fill="#f23645"/>
<rect x="1126" y="277" width="1" height="112" fill="#f23645"/>
<rect x="1125" y="307" width="3" height="14" fill="#f23645"/>
<rect x="1131" y="315" width="1" height="58" fill="#f23645"/>
<rect x="1130" y="320" width="3" height="2" fill="#f23645"/>
<rect x="1135" y="294" width="1" height="40" fill="#089981"/>
<rect x="1134" y="313" width="3" height="9" fill="#089981"/>
<rect x="1139" y="283" width="1" height="34" fill="#089981"/>
<rect x="1138" y="287" width="3" height="26" fill="#089981"/>
<rect x="1144" y="253" width="1" height="81" fill="#f23645"/>
<rect x="1143" y="287" width="3" height="42" fill="#f23645"/>
<rect x="1148" y="306" width="1" height="47" fill="#089981"/>
<rect x="1147" y="327" width="3" height="2" fill="#089981"/>
<rect x="1152" y="315" width="1" height="57" fill="#f23645"/>
<rect x="1151" y="327" width="3" height="11" fill="#f23645"/>
<rect x="1157" y="309" width="1" height="59" fill="#f23645"/>
<rect x="1156" y="338" width="3" height="28" fill="#f23645"/>
<rect x="1161" y="352" width="1" height="60" fill="#f23645"/>
<rect x="1160" y="366" width="3" height="22" fill="#f23645"/>
<rect x="1165" y="366" width="1" height="101" fill="#f23645"/>
<rect x="1164" y="388" width="3" height="70" fill="#f23645"/>
<rect x="1170" y="386" width="1" height="86" fill="#089981"/>
<rect x="1169" y="392" width="3" height="66" fill="#089981"/>
<rect x="1174" y="341" width="1" height="55" fill="#089981"/>
<rect x="1173" y="347" width="3" height="46" fill="#089981"/>
<rect x="1178" y="335" width="1" height="68" fill="#f23645"/>
<rect x="1177" y="347" width="3" height="41" fill="#f23645"/>
<rect x="1183" y="367" width="1" height="41" fill="#089981"/>
<rect x="1182" y="377" width="3" height="11" fill="#089981"/>
<rect x="1187" y="252" width="1" height="133" fill="#089981"/>
<rect x="1186" y="257" width="3" height="120" fill="#089981"/>
<rect x="1191" y="235" width="1" height="63" fill="#f23645"/>
<rect x="1190" y="257" width="3" height="14" fill="#f23645"/>
<rect x="1196" y="247" width="1" height="50" fill="#f23645"/>
<rect x="1195" y="270" width="3" height="22" fill="#f23645"/>
<rect x="1200" y="272" width="1" height="45" fill="#f23645"/>
<rect x="1199" y="292" width="3" height="14" fill="#f23645"/>
<rect x="1204" y="252" width="1" height="78" fill="#f23645"/>
<rect x="1203" y="306" width="3" height="21" fill="#f23645"/>
<rect x="1209" y="262" width="1" height="74" fill="#089981"/>
<rect x="1208" y="276" width="3" height="51" fill="#089981"/>
<rect x="1213" y="252" width="1" height="47" fill="#089981"/>
<rect x="1212" y="274" width="3" height="2" fill="#089981"/>
<rect x="1217" y="245" width="1" height="130" fill="#f23645"/>
<rect x="1216" y="274" width="3" height="72" fill="#f23645"/>
<rect x="1221" y="322" width="1" height="50" fill="#089981"/>
<rect x="1220" y="345" width="3" height="1" fill="#089981"/>
<rect x="1226" y="317" width="1" height="29" fill="#089981"/>
<rect x="1225" y="335" width="3" height="10" fill="#089981"/>
<rect x="1230" y="321" width="1" height="23" fill="#f23645"/>
<rect x="1229" y="335" width="3" height="7" fill="#f23645"/>
<rect x="1234" y="339" width="1" height="54" fill="#f23645"/>
<rect x="1233" y="342" width="3" height="9" fill="#f23645"/>
<rect x="1239" y="345" width="1" height="82" fill="#f23645"/>
<rect x="1238" y="351" width="3" height="74" fill="#f23645"/>
<rect x="1243" y="378" width="1" height="60" fill="#089981"/>
<rect x="1242" y="391" width="3" height="34" fill="#089981"/>
<rect x="1247" y="388" width="1" height="43" fill="#f23645"/>
<rect x="1246" y="391" width="3" height="36" fill="#f23645"/>
<rect x="1252" y="336" width="1" height="115" fill="#089981"/>
<rect x="1251" y="346" width="3" height="81" fill="#089981"/>
<rect x="1256" y="345" width="1" height="38" fill="#f23645"/>
<rect x="1255" y="346" width="3" height="12" fill="#f23645"/>
<rect x="1260" y="327" width="1" height="51" fill="#f23645"/>
<rect x="1259" y="356" width="3" height="8" fill="#f23645"/>
<rect x="1265" y="355" width="1" height="82" fill="#f23645"/>
<rect x="1264" y="364" width="3" height="62" fill="#f23645"/>
<rect x="1269" y="345" width="1" height="83" fill="#089981"/>
<rect x="1268" y="369" width="3" height="57" fill="#089981"/>
<rect x="1273" y="357" width="1" height="31" fill="#f23645"/>
<rect x="1272" y="369" width="3" height="17" fill="#f23645"/>
<rect x="1278" y="365" width="1" height="28" fill="#f23645"/>
<rect x="1277" y="385" width="3" height="1" fill="#f23645"/>
<rect x="1282" y="383" width="1" height="73" fill="#f23645"/>
<rect x="1281" y="385" width="3" height="55" fill="#f23645"/>
<rect x="1286" y="433" width="1" height="27" fill="#f23645"/>
<rect x="1285" y="439" width="3" height="1" fill="#f23645"/>
<rect x="1291" y="421" width="1" height="36" fill="#f23645"/>
<rect x="1290" y="439" width="3" height="17" fill="#f23645"/>
<rect x="1295" y="432" width="1" height="51" fill="#f23645"/>
<rect x="1294" y="456" width="3" height="5" fill="#f23645"/>
<rect x="1299" y="423" width="1" height="41" fill="#089981"/>
<rect x="1298" y="423" width="3" height="38" fill="#089981"/>
<rect x="1304" y="414" width="1" height="27" fill="#f23645"/>
<rect x="1303" y="423" width="3" height="8" fill="#f23645"/>
<rect x="1308" y="423" width="1" height="28" fill="#f23645"/>
<rect x="1307" y="430" width="3" height="19" fill="#f23645"/>
<rect x="1312" y="415" width="1" height="39" fill="#089981"/>
<rect x="1311" y="441" width="3" height="8" fill="#089981"/>
<rect x="1317" y="435" width="1" height="13" fill="#f23645"/>
<rect x="1316" y="441" width="3" height="1" fill="#f23645"/>
<rect x="1321" y="399" width="1" height="43" fill="#089981"/>
<rect x="1320" y="418" width="3" height="24" fill="#089981"/>
<rect x="1325" y="375" width="1" height="47" fill="#089981"/>
<rect x="1324" y="384" width="3" height="34" fill="#089981"/>
<rect x="1330" y="360" width="1" height="36" fill="#f23645"/>
<rect x="1329" y="384" width="3" height="9" fill="#f23645"/>
<rect x="1334" y="369" width="1" height="27" fill="#089981"/>
<rect x="1333" y="379" width="3" height="14" fill="#089981"/>
<rect x="1338" y="356" width="1" height="26" fill="#089981"/>
<rect x="1337" y="359" width="3" height="21" fill="#089981"/>
<rect x="1343" y="323" width="1" height="44" fill="#089981"/>
<rect x="1342" y="335" width="3" height="25" fill="#089981"/>
<rect x="1347" y="305" width="1" height="36" fill="#089981"/>
<rect x="1346" y="330" width="3" height="5" fill="#089981"/>
<rect x="1351" y="327" width="1" height="42" fill="#f23645"/>
<rect x="1350" y="330" width="3" height="34" fill="#f23645"/>
<rect x="1356" y="349" width="1" height="40" fill="#f23645"/>
<rect x="1355" y="363" width="3" height="11" fill="#f23645"/>
<rect x="1360" y="352" width="1" height="33" fill="#089981"/>
<rect x="1359" y="360" width="3" height="14" fill="#089981"/>
<rect x="1364" y="334" width="1" height="45" fill="#089981"/>
<rect x="1363" y="343" width="3" height="17" fill="#089981"/>
<rect x="1369" y="323" width="1" height="30" fill="#f23645"/>
<rect x="1368" y="343" width="3" height="4" fill="#f23645"/>
<rect x="1373" y="339" width="1" height="41" fill="#f23645"/>
<rect x="1372" y="347" width="3" height="30" fill="#f23645"/>
<rect x="1377" y="370" width="1" height="15" fill="#f23645"/>
<rect x="1376" y="377" width="3" height="6" fill="#f23645"/>
<rect x="1382" y="369" width="1" height="21" fill="#f23645"/>
<rect x="1381" y="382" width="3" height="2" fill="#f23645"/>
<rect x="1386" y="383" width="1" height="99" fill="#f23645"/>
<rect x="1385" y="383" width="3" height="45" fill="#f23645"/>
<rect x="1390" y="411" width="1" height="34" fill="#f23645"/>
<rect x="1389" y="427" width="3" height="10" fill="#f23645"/>
<rect x="1395" y="375" width="1" height="74" fill="#089981"/>
<rect x="1394" y="400" width="3" height="37" fill="#089981"/>
<rect x="1399" y="394" width="1" height="78" fill="#f23645"/>
<rect x="1398" y="400" width="3" height="67" fill="#f23645"/>
<rect x="1403" y="444" width="1" height="38" fill="#089981"/>
<rect x="1402" y="452" width="3" height="15" fill="#089981"/>
<rect x="1408" y="435" width="1" height="24" fill="#089981"/>
<rect x="1407" y="445" width="3" height="7" fill="#089981"/>
<rect x="1412" y="421" width="1" height="36" fill="#089981"/>
<rect x="1411" y="421" width="3" height="24" fill="#089981"/>
<rect x="1416" y="399" width="1" height="29" fill="#089981"/>
<rect x="1415" y="417" width="3" height="4" fill="#089981"/>
<rect x="1420" y="407" width="1" height="34" fill="#f23645"/>
<rect x="1419" y="417" width="3" height="12" fill="#f23645"/>
<rect x="1425" y="387" width="1" height="54" fill="#089981"/>
<rect x="1424" y="393" width="3" height="36" fill="#089981"/>
<rect x="1429" y="337" width="1" height="57" fill="#089981"/>
<rect x="1428" y="359" width="3" height="34" fill="#089981"/>
<rect x="1433" y="339" width="1" height="32" fill="#089981"/>
<rect x="1432" y="359" width="3" height="1" fill="#089981"/>
<rect x="1438" y="354" width="1" height="40" fill="#f23645"/>
<rect x="1437" y="359" width="3" height="26" fill="#f23645"/>
<rect x="1442" y="347" width="1" height="46" fill="#089981"/>
<rect x="1441" y="384" width="3" height="1" fill="#089981"/>
<rect x="1446" y="355" width="1" height="34" fill="#089981"/>
<rect x="1445" y="378" width="3" height="7" fill="#089981"/>
<rect x="1451" y="374" width="1" height="54" fill="#f23645"/>
<rect x="1450" y="378" width="3" height="49" fill="#f23645"/>
<rect x="1455" y="401" width="1" height="33" fill="#089981"/>
<rect x="1454" y="417" width="3" height="10" fill="#089981"/>
<rect x="1459" y="417" width="1" height="38" fill="#f23645"/>
<rect x="1458" y="418" width="3" height="28" fill="#f23645"/>
<rect x="1464" y="433" width="1" height="572" fill="#f23645"/>
<rect x="1463" y="445" width="3" height="157" fill="#f23645"/>
<rect x="1468" y="554" width="1" height="72" fill="#089981"/>
<rect x="1467" y="598" width="3" height="4" fill="#089981"/>
<rect x="1472" y="524" width="1" height="98" fill="#089981"/>
<rect x="1471" y="545" width="3" height="53" fill="#089981"/>
<rect x="1477" y="502" width="1" height="47" fill="#089981"/>
<rect x="1476" y="517" width="3" height="28" fill="#089981"/>
<rect x="1481" y="511" width="1" height="83" fill="#f23645"/>
<rect x="1480" y="517" width="3" height="37" fill="#f23645"/>
<rect x="1485" y="539" width="1" height="60" fill="#f23645"/>
<rect x="1484" y="554" width="3" height="34" fill="#f23645"/>
<rect x="1490" y="568" width="1" height="64" fill="#f23645"/>
<rect x="1489" y="588" width="3" height="29" fill="#f23645"/>
<rect x="1494" y="592" width="1" height="75" fill="#f23645"/>
<rect x="1493" y="617" width="3" height="14" fill="#f23645"/>
<rect x="1498" y="594" width="1" height="37" fill="#089981"/>
<rect x="1497" y="607" width="3" height="24" fill="#089981"/>
<rect x="1503" y="584" width="1" height="37" fill="#089981"/>
<rect x="1502" y="594" width="3" height="13" fill="#089981"/>
<rect x="1507" y="536" width="1" height="71" fill="#089981"/>
<rect x="1506" y="557" width="3" height="37" fill="#089981"/>
<rect x="1511" y="543" width="1" height="48" fill="#f23645"/>
<rect x="1510" y="557" width="3" height="26" fill="#f23645"/>
<rect x="1516" y="578" width="1" height="39" fill="#f23645"/>
<rect x="1515" y="583" width="3" height="21" fill="#f23645"/>
<rect x="1520" y="583" width="1" height="21" fill="#089981"/>
<rect x="1519" y="593" width="3" height="11" fill="#089981"/>
<rect x="1524" y="549" width="1" height="46" fill="#089981"/>
<rect x="1523" y="551" width="3" height="42" fill="#089981"/>
<rect x="1529" y="500" width="1" height="54" fill="#089981"/>
<rect x="1528" y="521" width="3" height="30" fill="#089981"/>
<rect x="1533" y="497" width="1" height="24" fill="#089981"/>
<rect x="1532" y="502" width="3" height="19" fill="#089981"/>
<rect x="1537" y="483" width="1" height="34" fill="#f23645"/>
<rect x="1536" y="502" width="3" height="4" fill="#f23645"/>
<rect x="1542" y="487" width="1" height="43" fill="#f23645"/>
<rect x="1541" y="506" width="3" height="11" fill="#f23645"/>
<rect x="1546" y="495" width="1" height="45" fill="#f23645"/>
<rect x="1545" y="517" width="3" height="21" fill="#f23645"/>
<rect x="1550" y="520" width="1" height="78" fill="#f23645"/>
<rect x="1549" y="537" width="3" height="41" fill="#f23645"/>
<rect x="1555" y="535" width="1" height="43" fill="#089981"/>
<rect x="1554" y="551" width="3" height="27" fill="#089981"/>
<rect x="1559" y="546" width="1" height="17" fill="#f23645"/>
<rect x="1558" y="551" width="3" height="2" fill="#f23645"/>
<rect x="1563" y="535" width="1" height="28" fill="#089981"/>
<rect x="1562" y="545" width="3" height="8" fill="#089981"/>
<rect x="1568" y="544" width="1" height="55" fill="#f23645"/>
<rect x="1567" y="546" width="3" height="37" fill="#f23645"/>
<line x1="983.7" y1="667" x2="1083.5" y2="584.3" stroke="#2962ff" stroke-width="2" stroke-linecap="round"/>
<line x1="992.8" y1="729" x2="1092" y2="612.5" stroke="#2962ff" stroke-width="2" stroke-linecap="round"/>
<line x1="1346.6" y1="304.5" x2="1512" y2="370.9" stroke="#2962ff" stroke-width="2" stroke-linecap="round"/>
<line x1="1376.8" y1="492.9" x2="1512" y2="429" stroke="#2962ff" stroke-width="2" stroke-linecap="round"/>
<line x1="1493.8" y1="635.5" x2="1603" y2="537" stroke="#2962ff" stroke-width="2" stroke-linecap="round"/>
</g>
<text x="1947" y="52.3" font-size="12" fill="#131722">3.9000</text>
<text x="1947" y="88.6" font-size="12" fill="#131722">3.8000</text>
<text x="1947" y="124.8" font-size="12" fill="#131722">3.7000</text>
<text x="1947" y="161.1" font-size="12" fill="#131722">3.6000</text>
<text x="1947" y="197.4" font-size="12" fill="#131722">3.5000</text>
<text x="1947" y="233.6" font-size="12" fill="#131722">3.4000</text>
<text x="1947" y="269.9" font-size="12" fill="#131722">3.3000</text>
<text x="1947" y="306.2" font-size="12" fill="#131722">3.2000</text>
<text x="1947" y="342.4" font-size="12" fill="#131722">3.1000</text>
<text x="1947" y="378.7" font-size="12" fill="#131722">3.0000</text>
<text x="1947" y="415.0" font-size="12" fill="#131722">2.9000</text>
<text x="1947" y="451.2" font-size="12" fill="#131722">2.8000</text>
<text x="1947" y="487.5" font-size="12" fill="#131722">2.7000</text>
<text x="1947" y="523.8" font-size="12" fill="#131722">2.6000</text>
<text x="1947" y="560.1" font-size="12" fill="#131722">2.5000</text>
<text x="1947" y="596.3" font-size="12" fill="#131722">2.4000</text>
<text x="1947" y="632.6" font-size="12" fill="#131722">2.3000</text>
<text x="1947" y="668.9" font-size="12" fill="#131722">2.2000</text>
<text x="1947" y="705.1" font-size="12" fill="#131722">2.1000</text>
<text x="1947" y="741.4" font-size="12" fill="#131722">2.0000</text>
<text x="1947" y="777.7" font-size="12" fill="#131722">1.9000</text>
<text x="1947" y="813.9" font-size="12" fill="#131722">1.8000</text>
<text x="1947" y="850.2" font-size="12" fill="#131722">1.7000</text>
<text x="1947" y="886.5" font-size="12" fill="#131722">1.6000</text>
<text x="1947" y="922.7" font-size="12" fill="#131722">1.5000</text>
<text x="1947" y="959.0" font-size="12" fill="#131722">1.4000</text>
<text x="1947" y="995.3" font-size="12" fill="#131722">1.3000</text>
<text x="1947" y="1031.5" font-size="12" fill="#131722">1.2000</text>
<text x="1947" y="1067.8" font-size="12" fill="#131722">1.1000</text>
<text x="1947" y="1122.8" font-size="12" fill="#131722">80.00</text>
<text x="110.2" y="1199" font-size="12.5" fill="#131722" text-anchor="middle">Dec</text>
<text x="244.3" y="1199" font-size="12.5" fill="#131722" text-anchor="middle" font-weight="bold">2025</text>
<text x="378.4" y="1199" font-size="12.5" fill="#131722" text-anchor="middle">Feb</text>
<text x="499.5" y="1199" font-size="12.5" fill="#131722" text-anchor="middle">Mar</text>
<text x="633.6" y="1199" font-size="12.5" fill="#131722" text-anchor="middle">Apr</text>
<text x="763.4" y="1199" font-size="12.5" fill="#131722" text-anchor="middle">May</text>
<text x="897.5" y="1199" font-size="12.5" fill="#131722" text-anchor="middle">Jun</text>
<text x="1027.3" y="1199" font-size="12.5" fill="#131722" text-anchor="middle">Jul</text>
<text x="1161.4" y="1199" font-size="12.5" fill="#131722" text-anchor="middle">Aug</text>
<text x="1295.5" y="1199" font-size="12.5" fill="#131722" text-anchor="middle">Sep</text>
<text x="1425.3" y="1199" font-size="12.5" fill="#131722" text-anchor="middle">Oct</text>
<text x="1559.4" y="1199" font-size="12.5" fill="#131722" text-anchor="middle">Nov</text>
<text x="1689.2" y="1199" font-size="12.5" fill="#131722" text-anchor="middle">Dec</text>
<text x="1823.3" y="1199" font-size="12.5" fill="#131722" text-anchor="middle" font-weight="bold">2026</text>
<path d="M1939,458.2 H1986 Q1988,458.2 1988,460.2 V472.4 Q1988,474.4 1986,474.4 H1939 Z" fill="#ff9800"/>
<text x="1947" y="470.6" font-size="12" fill="#131722">2.7053</text>
<path d="M1939,474.4 H1986 Q1988,474.4 1988,476.4 V489.8 Q1988,491.8 1986,491.8 H1939 Z" fill="#5b9cf6"/>
<text x="1947" y="487.4" font-size="12" fill="#131722">2.6988</text>
<path d="M1939,509 H1986 Q1988,509 1988,511 V523.8 Q1988,525.8 1986,525.8 H1939 Z" fill="#000000"/>
<text x="1947" y="521.7" font-size="12" fill="#ffffff">2.6041</text>
<path d="M1939,527.3 H1986 Q1988,527.3 1988,529.3 V541.7 Q1988,543.7 1986,543.7 H1939 Z" fill="#008000"/>
<text x="1947" y="539.8" font-size="12" fill="#ffffff">2.5533</text>
<path d="M1939,574 H1997 Q1999,574 1999,576 V603 Q1999,605 1997,605 H1939 Z" fill="#f23645"/>
<text x="1947" y="586.5" font-size="12" fill="#fff">2.4261</text>
<text x="1947" y="600.5" font-size="12" fill="#fff">09:52:10</text>
<path d="M1883,574 H1938 V591 H1883 Q1881,591 1881,589 V576 Q1881,574 1883,574 Z" fill="#f23645"/>
<text x="1909.5" y="586.8" font-size="11.5" fill="#fff" text-anchor="middle">XRPUSDT</text>
<path d="M1939,1077 H1984 Q1986,1077 1986,1079 V1091 Q1986,1093 1984,1093 H1939 Z" fill="#f7525f"/>
<text x="1947" y="1089.3" font-size="12" fill="#ffffff">70.6M</text>
<path d="M1939,1132 H1980 Q1982,1132 1982,1134 V1146.5 Q1982,1148.5 1980,1148.5 H1939 Z" fill="#ffeb3b"/>
<text x="1947" y="1144.5" font-size="12" fill="#131722">45.80</text>
<path d="M1939,1149.5 H1980 Q1982,1149.5 1982,1151.5 V1164 Q1982,1166 1980,1166 H1939 Z" fill="#7e57c2"/>
<text x="1947" y="1162.0" font-size="12" fill="#ffffff">42.19</text>
<text x="17.6" y="45.7" font-size="12" fill="#131722" textLength="161.1" lengthAdjust="spacingAndGlyphs">XRP / TetherUS · 1D · Binance</text>
<text x="186.2" y="45.7" font-size="12" fill="#131722">O</text>
<text x="194.2" y="45.7" font-size="12" fill="#f23645" textLength="35.8" lengthAdjust="spacingAndGlyphs">2.5267</text>
<text x="237.4" y="45.7" font-size="12" fill="#131722">H</text>
<text x="244.9" y="45.7" font-size="12" fill="#f23645" textLength="35.7" lengthAdjust="spacingAndGlyphs">2.5322</text>
<text x="288.4" y="45.7" font-size="12" fill="#131722">L</text>
<text x="294.9" y="45.7" font-size="12" fill="#f23645" textLength="35.1" lengthAdjust="spacingAndGlyphs">2.3817</text>
<text x="337.5" y="45.7" font-size="12" fill="#131722">C</text>
<text x="345.5" y="45.7" font-size="12" fill="#f23645" textLength="34.3" lengthAdjust="spacingAndGlyphs">2.4261</text>
<text x="387.3" y="45.7" font-size="12" fill="#f23645" textLength="91.4" lengthAdjust="spacingAndGlyphs">−0.1006 (−3.98%)</text>
<g fill="#131722">
<path d="M11.9,1230.9 H23.8 V1245.8 H17.9 V1236.8 H11.9 Z"/>
<circle cx="29.3" cy="1233.9" r="2.6"/>
<path d="M34.3,1230.9 H41.7 L36.2,1245.8 H29.3 Z"/>
<text x="49.2" y="1245.8" font-size="20.5" font-weight="bold" fill="#131722">TradingView</text>
</g>
</svg></body></html>
